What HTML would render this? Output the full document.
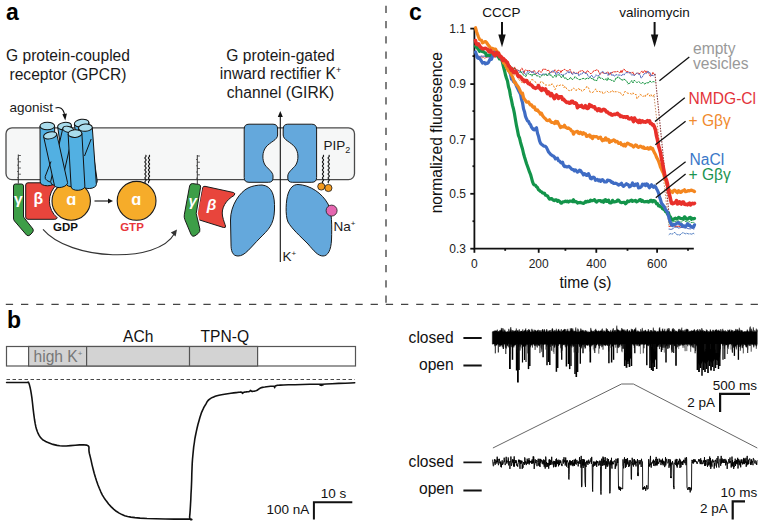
<!DOCTYPE html>
<html><head><meta charset="utf-8"><style>
html,body{margin:0;padding:0;background:#fff;width:764px;height:527px;overflow:hidden}
svg{display:block;font-family:"Liberation Sans", sans-serif}
</style></head><body>
<svg width="764" height="527" viewBox="0 0 764 527">
<path d="M386,5.7 V304.4" stroke="#555" stroke-width="1.5" fill="none" stroke-dasharray="7.3,7.95"/>
<path d="M5.8,304.4 H764" stroke="#444" stroke-width="1.4" fill="none" stroke-dasharray="7.3,7.9"/>
<text x="6" y="20" font-size="23" fill="#000" font-weight="bold" text-anchor="start" >a</text>
<text x="7" y="328" font-size="23" fill="#000" font-weight="bold" text-anchor="start" >b</text>
<text x="409" y="20" font-size="23" fill="#000" font-weight="bold" text-anchor="start" >c</text>
<text x="6" y="61" font-size="15.6" fill="#1a1a1a" font-weight="normal" text-anchor="start" >G protein-coupled</text>
<text x="9.5" y="79.5" font-size="15.6" fill="#1a1a1a" font-weight="normal" text-anchor="start" >receptor (GPCR)</text>
<text x="280.5" y="61" font-size="15.6" fill="#1a1a1a" font-weight="normal" text-anchor="middle" >G protein-gated</text>
<text x="280.5" y="79" font-size="15.6" fill="#1a1a1a" font-weight="normal" text-anchor="middle" >inward rectifier K<tspan font-size="9" dy="-6">+</tspan></text>
<text x="280.5" y="97.5" font-size="15.6" fill="#1a1a1a" font-weight="normal" text-anchor="middle" >channel (GIRK)</text>
<text x="9.5" y="111.5" font-size="13.5" fill="#1a1a1a" font-weight="normal" text-anchor="start" >agonist</text>
<path d="M55.5,108 C59,106.5 63.5,108 64.6,115" stroke="#111" stroke-width="1.1" fill="none"/>
<path d="M62.3,114.2 L65.3,120.5 L66.9,113.6 Z" fill="#111"/>
<rect x="6" y="127.8" width="348.5" height="51.8" rx="6" ry="6" fill="#f6f7f7" stroke="#4a4a4a" stroke-width="1.3"/>
<path d="M18.3,154.5 V183.5" stroke="#222" stroke-width="0.9"/>
<path d="M18.3,155.5 h2.6 M18.3,159.0 h-1.2 M18.3,161.8 h2.6 M18.3,165.2 h-1.2 M18.3,168.0 h2.6 M18.3,171.5 h-1.2 M18.3,174.2 h2.6 M18.3,177.8 h-1.2 " stroke="#333" stroke-width="0.8"/>
<path d="M13.5,186 Q13.5,184 15.5,184 L21.5,184 Q23.5,184 23.5,186 L23.5,217 L33,229 Q34,231 32,233 L30,235 Q28,236.5 26.5,235 L14.5,221 Q13.5,220 13.5,218 Z" fill="#3d9e47" stroke="#1a1a1a" stroke-width="1"/>
<text x="18.3" y="204.4" font-size="15.5" fill="#fff" font-weight="bold" text-anchor="middle" >γ</text>
<path d="M28,182.8 L54.5,182.8 Q56.5,182.8 56.95,184.5 A21.8,21.8 0 0 0 57.3,217.8 Q56.5,219.3 54.8,219.3 L28,219.3 Q25.7,219.3 25.7,217 L25.7,185 Q25.7,182.8 28,182.8 Z" fill="#e8453c" stroke="#1a1a1a" stroke-width="1"/>
<text x="38.3" y="204.4" font-size="15.7" fill="#fff" font-weight="bold" text-anchor="middle" >β</text>
<circle cx="71.2" cy="201" r="20.6" fill="#fff"/>
<circle cx="71.2" cy="201" r="19.2" fill="#f6ac2a" stroke="#1a1a1a" stroke-width="1.1"/>
<text x="71.2" y="205.3" font-size="16.5" fill="#fff" font-weight="bold" text-anchor="middle" >ɑ</text>
<path d="M74.37,124.13 L82.77,183.03 A7.3,3.8 -8.1 0 0 97.23,180.97 L88.83,122.07 Z" fill="#52b0e2" stroke="#111" stroke-width="1"/>
<ellipse cx="81.6" cy="123.1" rx="7.3" ry="3.8" transform="rotate(-8.1 81.6 123.1)" fill="#a9dcec" stroke="#111" stroke-width="1"/>
<path d="M40.00,126.03 L40.20,182.03 A7.3,3.8 -0.2 0 0 54.80,181.97 L54.60,125.97 Z" fill="#52b0e2" stroke="#111" stroke-width="1"/>
<ellipse cx="47.3" cy="126" rx="7.3" ry="3.8" transform="rotate(-0.2 47.3 126)" fill="#a9dcec" stroke="#111" stroke-width="1"/>
<path d="M57.68,127.02 L66.18,184.02 A6.9,3.6 -8.5 0 0 79.82,181.98 L71.32,124.98 Z" fill="#52b0e2" stroke="#111" stroke-width="1"/>
<ellipse cx="64.5" cy="126" rx="6.9" ry="3.6" transform="rotate(-8.5 64.5 126)" fill="#a9dcec" stroke="#111" stroke-width="1"/>
<path d="M62.84,128.18 L50.64,181.78 A5.5,3.0 12.8 0 0 61.36,184.22 L73.56,130.62 Z" fill="#52b0e2" stroke="#111" stroke-width="1"/>
<ellipse cx="68.2" cy="129.4" rx="5.5" ry="3.0" transform="rotate(12.8 68.2 129.4)" fill="#a9dcec" stroke="#111" stroke-width="1"/>
<path d="M78.52,128.19 L82.62,185.49 A6.9,3.6 -4.1 0 0 96.38,184.51 L92.28,127.21 Z" fill="#52b0e2" stroke="#111" stroke-width="1"/>
<ellipse cx="85.4" cy="127.7" rx="6.9" ry="3.6" transform="rotate(-4.1 85.4 127.7)" fill="#a9dcec" stroke="#111" stroke-width="1"/>
<path d="M43.66,136.75 L54.46,185.45 A6.7,3.4 -12.5 0 0 67.54,182.55 L56.74,133.85 Z" fill="#52b0e2" stroke="#111" stroke-width="1"/>
<ellipse cx="50.2" cy="135.3" rx="6.7" ry="3.4" transform="rotate(-12.5 50.2 135.3)" fill="#a9dcec" stroke="#111" stroke-width="1"/>
<path d="M68.11,133.99 L71.11,186.89 A6.9,3.8 -3.2 0 0 84.89,186.11 L81.89,133.21 Z" fill="#52b0e2" stroke="#111" stroke-width="1"/>
<ellipse cx="75" cy="133.6" rx="6.9" ry="3.8" transform="rotate(-3.2 75 133.6)" fill="#a9dcec" stroke="#111" stroke-width="1"/>
<path d="M51,161.5 L45.2,176.5 Q44.6,179 47,180.5 L50,182" stroke="#111" stroke-width="1" fill="none"/>
<path d="M91.2,139 L84.5,156" stroke="#111" stroke-width="1" fill="none"/>
<text x="65.5" y="230.5" font-size="11.5" fill="#111" font-weight="bold" text-anchor="middle" >GDP</text>
<path d="M94.5,201 H109" stroke="#111" stroke-width="1.1"/>
<path d="M108,198.5 L113,201 L108,203.5 Z" fill="#111"/>
<path d="M145.5,155 Q146.8,156 145.5,157 Q144.2,158 145.5,159 Q146.8,160 145.5,161 Q144.2,162 145.5,163 Q146.8,164 145.5,165 Q144.2,166 145.5,167 Q146.8,168 145.5,169 Q144.2,170 145.5,171 Q146.8,172 145.5,173 Q144.2,174 145.5,175 Q146.8,176 145.5,177 Q144.2,178 145.5,179 Q146.8,180 145.5,181 Q144.2,182 145.5,183" stroke="#111" stroke-width="1.05" fill="none"/>
<path d="M149,155 Q150.3,156 149,157 Q147.7,158 149,159 Q150.3,160 149,161 Q147.7,162 149,163 Q150.3,164 149,165 Q147.7,166 149,167 Q150.3,168 149,169 Q147.7,170 149,171 Q150.3,172 149,173 Q147.7,174 149,175 Q150.3,176 149,177 Q147.7,178 149,179 Q150.3,180 149,181 Q147.7,182 149,183" stroke="#111" stroke-width="1.05" fill="none"/>
<circle cx="136.6" cy="200.8" r="19.4" fill="#f6ac2a" stroke="#1a1a1a" stroke-width="1.1"/>
<text x="136.4" y="205.4" font-size="16.5" fill="#fff" font-weight="bold" text-anchor="middle" >ɑ</text>
<text x="132" y="230.5" font-size="11.5" fill="#e8353a" font-weight="bold" text-anchor="middle" >GTP</text>
<path d="M43,229.3 C70,261 158,264 174.5,233.5" stroke="#333" stroke-width="1.1" fill="none"/>
<path d="M170.8,232.6 L177,229.6 L175.6,236.4 Z" fill="#333"/>
<path d="M205,186.3 L233.5,192.5 Q236,193.5 234,195.5 C226,200 221,208 222.5,216 C223.5,221 225,224 225.5,226 Q226,228 223.5,227.5 L198,219.5 Q196,219 196.5,217 L202.5,188 Q203,186 205,186.3 Z" fill="#e8453c" stroke="#1a1a1a" stroke-width="1"/>
<path d="M192.5,183.6 L198.8,184.4 Q201,184.9 200.6,187.2 L196.2,213.5 L199.8,228.8 Q200.5,231.8 198,233.6 L195,235.8 Q192.6,237.2 191.2,234.8 L184.8,219.5 Q183.9,217.2 184.3,214.8 L189.6,186 Q190.2,183.4 192.5,183.6 Z" fill="#fff" stroke="#fff" stroke-width="3.2"/>
<path d="M192.5,183.6 L198.8,184.4 Q201,184.9 200.6,187.2 L196.2,213.5 L199.8,228.8 Q200.5,231.8 198,233.6 L195,235.8 Q192.6,237.2 191.2,234.8 L184.8,219.5 Q183.9,217.2 184.3,214.8 L189.6,186 Q190.2,183.4 192.5,183.6 Z" fill="#3d9e47" stroke="#1a1a1a" stroke-width="1"/>
<path d="M197.3,155 V184" stroke="#222" stroke-width="0.9"/>
<path d="M197.3,156.0 h2.6 M197.3,159.5 h-1.2 M197.3,162.2 h2.6 M197.3,165.8 h-1.2 M197.3,168.5 h2.6 M197.3,172.0 h-1.2 M197.3,174.8 h2.6 M197.3,178.2 h-1.2 " stroke="#333" stroke-width="0.8"/>
<text x="192.6" y="206" font-size="15" fill="#fff" font-weight="bold" text-anchor="middle" font-style="italic">γ</text>
<text x="211.5" y="209.5" font-size="15.5" fill="#fff" font-weight="bold" text-anchor="middle" font-style="italic">β</text>
<path d="M249,124.2 L273,124.2 Q277.6,124.2 277.6,129 L277.6,135 C277.6,140 270,142 266,147 C262,152 262,160 265,165 C268,169 273,172 273,176 L273,178 Q273,182.3 268.5,182.3 L249,182.3 Q244.2,182.3 244.2,177.5 L244.2,129 Q244.2,124.2 249,124.2 Z" fill="#64a8dc" stroke="#1a1a1a" stroke-width="1"/>
<path d="M311.8,124.2 L287.8,124.2 Q283.2,124.2 283.2,129 L283.2,135 C283.2,140 290.8,142 294.8,147 C298.8,152 298.8,160 295.8,165 C292.8,169 287.8,172 287.8,176 L287.8,178 Q287.8,182.3 292.3,182.3 L311.8,182.3 Q316.6,182.3 316.6,177.5 L316.6,129 Q316.6,124.2 311.8,124.2 Z" fill="#64a8dc" stroke="#1a1a1a" stroke-width="1"/>
<path d="M262,185 C272,186 275,195 274.5,210 C274,225 268,230 260,238 C250,248 245,256 238,256 C232,256 231,250 231,244 L230.5,220 C230.5,205 240,192 248,188 C252,186 257,185 262,185 Z" fill="#64a8dc" stroke="#1a1a1a" stroke-width="1"/>
<path d="M298,184.5 C310,185 322,193 328,204 C332,212 332,225 331.5,240 C331,250 328,256 323,256 C318,256 314,251 308,244 C300,236 292,229 288,222 C285,215 286,200 288,194 C290,188 293,184.5 298,184.5 Z" fill="#64a8dc" stroke="#1a1a1a" stroke-width="1"/>
<path d="M280.3,262 V116" stroke="#111" stroke-width="1.1"/>
<path d="M277.8,117 L280.3,111 L282.8,117 Z" fill="#111"/>
<text x="282.5" y="261" font-size="13.5" fill="#1a1a1a" font-weight="normal" text-anchor="start" >K<tspan font-size="8" dy="-5">+</tspan></text>
<text x="323.5" y="150" font-size="13.5" fill="#1a1a1a" font-weight="normal" text-anchor="start" >PIP<tspan font-size="9" dy="3">2</tspan></text>
<path d="M323,155 Q324.3,156 323,157 Q321.7,158 323,159 Q324.3,160 323,161 Q321.7,162 323,163 Q324.3,164 323,165 Q321.7,166 323,167 Q324.3,168 323,169 Q321.7,170 323,171 Q324.3,172 323,173 Q321.7,174 323,175 Q324.3,176 323,177 Q321.7,178 323,179 Q324.3,180 323,181 Q321.7,182 323,183" stroke="#111" stroke-width="1.05" fill="none"/>
<path d="M328.7,155 Q330.0,156 328.7,157 Q327.4,158 328.7,159 Q330.0,160 328.7,161 Q327.4,162 328.7,163 Q330.0,164 328.7,165 Q327.4,166 328.7,167 Q330.0,168 328.7,169 Q327.4,170 328.7,171 Q330.0,172 328.7,173 Q327.4,174 328.7,175 Q330.0,176 328.7,177 Q327.4,178 328.7,179 Q330.0,180 328.7,181 Q327.4,182 328.7,183" stroke="#111" stroke-width="1.05" fill="none"/>
<circle cx="321.3" cy="186.5" r="3.6" fill="#f39a1f" stroke="#1a1a1a" stroke-width="0.8"/>
<circle cx="328.4" cy="188" r="3.6" fill="#f39a1f" stroke="#1a1a1a" stroke-width="0.8"/>
<circle cx="331.6" cy="210.6" r="5.5" fill="#e466b0" stroke="#1a1a1a" stroke-width="0.8"/>
<text x="333.5" y="230.5" font-size="13.5" fill="#1a1a1a" font-weight="normal" text-anchor="start" >Na<tspan font-size="8" dy="-5">+</tspan></text>
<path d="M474.4,28 V248.7 H693.8" stroke="#111" stroke-width="1.8" fill="none"/>
<path d="M470.3,28.6 H474.4" stroke="#111" stroke-width="1.8"/>
<text x="466" y="32.9" font-size="12" fill="#222" font-weight="normal" text-anchor="end" >1.1</text>
<path d="M470.3,84.1 H474.4" stroke="#111" stroke-width="1.8"/>
<text x="466" y="88.39999999999999" font-size="12" fill="#222" font-weight="normal" text-anchor="end" >0.9</text>
<path d="M470.3,139.2 H474.4" stroke="#111" stroke-width="1.8"/>
<text x="466" y="143.5" font-size="12" fill="#222" font-weight="normal" text-anchor="end" >0.7</text>
<path d="M470.3,193.8 H474.4" stroke="#111" stroke-width="1.8"/>
<text x="466" y="198.10000000000002" font-size="12" fill="#222" font-weight="normal" text-anchor="end" >0.5</text>
<path d="M470.3,248.7 H474.4" stroke="#111" stroke-width="1.8"/>
<text x="466" y="253.0" font-size="12" fill="#222" font-weight="normal" text-anchor="end" >0.3</text>
<path d="M472.5,56.1 H474.4" stroke="#111" stroke-width="1.8"/>
<path d="M472.5,111.1 H474.4" stroke="#111" stroke-width="1.8"/>
<path d="M472.5,166.2 H474.4" stroke="#111" stroke-width="1.8"/>
<path d="M472.5,221.2 H474.4" stroke="#111" stroke-width="1.8"/>
<path d="M474.4,248.7 V252.8" stroke="#111" stroke-width="1.8"/>
<text x="474.4" y="267.5" font-size="12" fill="#222" font-weight="normal" text-anchor="middle" >0</text>
<path d="M505.2,248.7 V250.8" stroke="#111" stroke-width="1.8"/>
<path d="M538.7,248.7 V252.8" stroke="#111" stroke-width="1.8"/>
<text x="538.7" y="267.5" font-size="12" fill="#222" font-weight="normal" text-anchor="middle" >200</text>
<path d="M565.4,248.7 V250.8" stroke="#111" stroke-width="1.8"/>
<path d="M596.3,248.7 V252.8" stroke="#111" stroke-width="1.8"/>
<text x="596.3" y="267.5" font-size="12" fill="#222" font-weight="normal" text-anchor="middle" >400</text>
<path d="M627.5,248.7 V250.8" stroke="#111" stroke-width="1.8"/>
<path d="M657.1,248.7 V252.8" stroke="#111" stroke-width="1.8"/>
<text x="657.1" y="267.5" font-size="12" fill="#222" font-weight="normal" text-anchor="middle" >600</text>
<path d="M688,248.7 V250.8" stroke="#111" stroke-width="1.8"/>
<text x="585.5" y="288.3" font-size="15.6" fill="#111" font-weight="normal" text-anchor="middle" >time (s)</text>
<text x="0" y="0" font-size="15.6" fill="#111" font-weight="normal" text-anchor="middle" transform="translate(441.5,132.7) rotate(-90)">normalized fluoresence</text>
<text x="501.5" y="16.7" font-size="13.5" fill="#111" font-weight="normal" text-anchor="middle" >CCCP</text>
<text x="654.5" y="16.5" font-size="13.5" fill="#111" font-weight="normal" text-anchor="middle" >valinomycin</text>
<path d="M502,22 V37" stroke="#111" stroke-width="2"/>
<path d="M498.3,34.5 L502,47.3 L505.7,34.5 Z" fill="#111"/>
<path d="M654.6,22 V37" stroke="#111" stroke-width="2"/>
<path d="M650.9,34.5 L654.6,47.3 L658.3000000000001,34.5 Z" fill="#111"/>
<path d="M501.0,57.3 L502.0,58.8 L503.0,59.2 L504.0,57.7 L505.0,59.1 L506.0,59.1 L507.0,61.3 L508.0,60.9 L509.0,63.8 L510.0,65.1 L511.0,68.2 L512.0,68.4 L513.0,68.7 L514.0,67.7 L515.0,67.1 L516.0,69.7 L517.0,69.6 L518.0,70.3 L519.0,70.5 L520.0,71.5 L521.0,69.1 L522.0,68.1 L523.0,70.3 L524.0,73.6 L525.0,70.0 L526.0,69.7 L527.0,70.8 L528.0,70.4 L529.0,70.5 L530.0,70.5 L531.0,72.1 L532.0,71.9 L533.0,71.9 L534.0,70.2 L535.0,71.7 L536.0,73.8 L537.0,73.5 L538.0,72.2 L539.0,70.4 L540.0,71.6 L541.0,72.3 L542.0,71.7 L543.0,68.9 L544.0,69.4 L545.0,69.2 L546.0,69.4 L547.0,70.9 L548.0,70.1 L549.0,70.6 L550.0,72.9 L551.0,71.4 L552.0,71.5 L553.0,72.5 L554.0,71.4 L555.0,69.7 L556.0,71.1 L557.0,72.6 L558.0,70.0 L559.0,70.5 L560.0,70.5 L561.0,72.8 L562.0,70.3 L563.0,70.7 L564.0,69.4 L565.0,69.4 L566.0,70.6 L567.0,70.8 L568.0,71.1 L569.0,70.5 L570.0,69.2 L571.0,71.7 L572.0,73.6 L573.0,72.7 L574.0,71.8 L575.0,73.5 L576.0,73.3 L577.0,72.9 L578.0,73.6 L579.0,71.6 L580.0,70.7 L581.0,71.4 L582.0,70.2 L583.0,71.1 L584.0,71.8 L585.0,72.6 L586.0,72.9 L587.0,70.7 L588.0,71.1 L589.0,72.0 L590.0,73.2 L591.0,73.8 L592.0,72.6 L593.0,72.0 L594.0,70.5 L595.0,70.6 L596.0,70.3 L597.0,69.5 L598.0,70.3 L599.0,72.4 L600.0,74.2 L601.0,73.5 L602.0,72.6 L603.0,72.7 L604.0,73.4 L605.0,73.4 L606.0,73.2 L607.0,72.4 L608.0,71.8 L609.0,74.7 L610.0,74.7 L611.0,72.3 L612.0,73.2 L613.0,71.6 L614.0,72.2 L615.0,71.5 L616.0,72.1 L617.0,71.4 L618.0,71.4 L619.0,72.4 L620.0,73.0 L621.0,70.3 L622.0,72.8 L623.0,69.8 L624.0,69.1 L625.0,70.0 L626.0,71.7 L627.0,71.9 L628.0,71.4 L629.0,73.1 L630.0,72.7 L631.0,72.4 L632.0,73.4 L633.0,71.9 L634.0,74.8 L635.0,75.2 L636.0,73.7 L637.0,73.1 L638.0,72.9 L639.0,73.6 L640.0,73.5 L641.0,71.9 L642.0,70.9 L643.0,73.0 L644.0,71.0 L645.0,70.6 L646.0,73.0 L647.0,70.9 L648.0,72.4 L649.0,73.7 L650.0,76.1 L651.0,75.9 L652.0,74.5 L653.0,72.2 L654.0,74.1 L655.0,74.9" stroke="#e8392a" stroke-width="1.0" fill="none" stroke-linejoin="round" stroke-linecap="round" stroke-dasharray="2.2,1.3"/>
<path d="M501.0,55.8 L502.0,56.7 L503.0,60.7 L504.0,59.9 L505.0,58.9 L506.0,60.9 L507.0,62.2 L508.0,64.0 L509.0,64.1 L510.0,66.9 L511.0,67.7 L512.0,70.9 L513.0,70.2 L514.0,69.7 L515.0,71.1 L516.0,71.4 L517.0,69.8 L518.0,71.2 L519.0,70.3 L520.0,72.4 L521.0,71.5 L522.0,72.5 L523.0,71.4 L524.0,72.2 L525.0,74.0 L526.0,74.6 L527.0,72.7 L528.0,71.0 L529.0,72.6 L530.0,71.8 L531.0,71.3 L532.0,72.9 L533.0,71.4 L534.0,73.1 L535.0,74.4 L536.0,73.7 L537.0,72.3 L538.0,72.5 L539.0,74.7 L540.0,74.2 L541.0,75.3 L542.0,74.4 L543.0,74.1 L544.0,74.1 L545.0,74.0 L546.0,74.2 L547.0,74.9 L548.0,75.7 L549.0,74.5 L550.0,72.9 L551.0,72.4 L552.0,71.9 L553.0,70.3 L554.0,72.0 L555.0,71.9 L556.0,75.0 L557.0,73.6 L558.0,71.9 L559.0,73.3 L560.0,73.5 L561.0,74.7 L562.0,74.4 L563.0,76.3 L564.0,74.2 L565.0,74.3 L566.0,73.5 L567.0,73.0 L568.0,71.4 L569.0,73.3 L570.0,71.5 L571.0,73.1 L572.0,74.0 L573.0,74.4 L574.0,72.2 L575.0,74.0 L576.0,73.1 L577.0,73.9 L578.0,73.5 L579.0,76.0 L580.0,74.3 L581.0,73.8 L582.0,74.2 L583.0,72.3 L584.0,72.5 L585.0,73.0 L586.0,73.8 L587.0,73.4 L588.0,75.9 L589.0,77.3 L590.0,77.1 L591.0,75.5 L592.0,75.5 L593.0,77.3 L594.0,77.8 L595.0,76.7 L596.0,74.7 L597.0,75.8 L598.0,75.9 L599.0,75.1 L600.0,74.4 L601.0,72.6 L602.0,71.6 L603.0,71.3 L604.0,73.1 L605.0,73.9 L606.0,73.1 L607.0,73.3 L608.0,75.5 L609.0,73.4 L610.0,73.3 L611.0,72.3 L612.0,75.6 L613.0,74.4 L614.0,76.0 L615.0,76.1 L616.0,74.4 L617.0,75.1 L618.0,74.9 L619.0,75.2 L620.0,75.0 L621.0,75.4 L622.0,75.5 L623.0,74.0 L624.0,75.1 L625.0,73.7 L626.0,72.4 L627.0,72.9 L628.0,72.5 L629.0,72.6 L630.0,72.2 L631.0,74.3 L632.0,75.4 L633.0,74.1 L634.0,75.8 L635.0,75.0 L636.0,73.8 L637.0,72.8 L638.0,74.1 L639.0,74.1 L640.0,74.6 L641.0,78.1 L642.0,77.4 L643.0,75.8 L644.0,73.8 L645.0,73.6 L646.0,73.2 L647.0,73.1 L648.0,70.9 L649.0,72.9 L650.0,72.3 L651.0,76.1 L652.0,75.0 L653.0,75.9 L654.0,75.6 L655.0,74.2" stroke="#5a70c0" stroke-width="1.0" fill="none" stroke-linejoin="round" stroke-linecap="round" stroke-dasharray="2.2,1.3"/>
<path d="M501.0,57.4 L502.0,59.2 L503.0,60.3 L504.0,62.0 L505.0,61.0 L506.0,61.2 L507.0,61.5 L508.0,62.2 L509.0,65.4 L510.0,66.5 L511.0,66.3 L512.0,66.8 L513.0,69.3 L514.0,68.3 L515.0,68.8 L516.0,70.4 L517.0,72.4 L518.0,73.8 L519.0,72.7 L520.0,71.7 L521.0,71.6 L522.0,73.6 L523.0,74.1 L524.0,75.6 L525.0,75.9 L526.0,76.5 L527.0,74.4 L528.0,73.4 L529.0,74.1 L530.0,75.0 L531.0,74.2 L532.0,76.2 L533.0,73.9 L534.0,74.6 L535.0,74.0 L536.0,75.3 L537.0,76.1 L538.0,75.6 L539.0,76.2 L540.0,77.5 L541.0,76.1 L542.0,75.3 L543.0,74.7 L544.0,75.2 L545.0,74.8 L546.0,73.7 L547.0,75.9 L548.0,74.9 L549.0,73.2 L550.0,75.5 L551.0,74.7 L552.0,76.3 L553.0,77.7 L554.0,76.1 L555.0,75.2 L556.0,77.2 L557.0,75.2 L558.0,74.7 L559.0,75.0 L560.0,75.2 L561.0,77.5 L562.0,77.2 L563.0,75.2 L564.0,77.9 L565.0,78.3 L566.0,77.7 L567.0,79.6 L568.0,79.5 L569.0,79.4 L570.0,77.8 L571.0,77.7 L572.0,79.4 L573.0,79.3 L574.0,78.3 L575.0,76.6 L576.0,77.8 L577.0,78.1 L578.0,79.2 L579.0,79.4 L580.0,79.8 L581.0,79.0 L582.0,79.1 L583.0,78.2 L584.0,78.7 L585.0,79.0 L586.0,79.1 L587.0,77.9 L588.0,78.7 L589.0,78.5 L590.0,77.4 L591.0,78.0 L592.0,79.1 L593.0,78.4 L594.0,80.3 L595.0,79.9 L596.0,80.6 L597.0,80.5 L598.0,77.8 L599.0,76.3 L600.0,78.2 L601.0,78.2 L602.0,78.1 L603.0,79.2 L604.0,79.7 L605.0,79.8 L606.0,78.6 L607.0,80.6 L608.0,77.7 L609.0,79.8 L610.0,79.2 L611.0,80.4 L612.0,80.2 L613.0,80.4 L614.0,81.8 L615.0,80.3 L616.0,77.9 L617.0,78.3 L618.0,76.7 L619.0,77.8 L620.0,78.2 L621.0,79.9 L622.0,79.5 L623.0,80.4 L624.0,78.9 L625.0,80.1 L626.0,80.3 L627.0,81.7 L628.0,83.9 L629.0,83.3 L630.0,83.2 L631.0,81.3 L632.0,80.6 L633.0,83.0 L634.0,80.4 L635.0,80.7 L636.0,81.7 L637.0,82.8 L638.0,81.7 L639.0,81.8 L640.0,82.5 L641.0,83.7 L642.0,83.0 L643.0,82.3 L644.0,83.7 L645.0,84.1 L646.0,82.7 L647.0,83.0 L648.0,82.7 L649.0,82.7 L650.0,80.9 L651.0,82.1 L652.0,82.4 L653.0,81.3 L654.0,82.1 L655.0,81.6" stroke="#1f9a48" stroke-width="1.0" fill="none" stroke-linejoin="round" stroke-linecap="round" stroke-dasharray="2.2,1.3"/>
<path d="M501.0,57.8 L502.0,58.4 L503.0,59.2 L504.0,58.7 L505.0,61.2 L506.0,63.6 L507.0,64.5 L508.0,65.8 L509.0,65.6 L510.0,69.8 L511.0,71.3 L512.0,71.9 L513.0,73.6 L514.0,74.6 L515.0,75.2 L516.0,75.6 L517.0,76.6 L518.0,78.0 L519.0,79.6 L520.0,80.9 L521.0,81.5 L522.0,82.8 L523.0,81.8 L524.0,79.7 L525.0,78.7 L526.0,81.2 L527.0,79.4 L528.0,79.6 L529.0,80.7 L530.0,82.5 L531.0,79.8 L532.0,79.6 L533.0,79.9 L534.0,80.3 L535.0,81.4 L536.0,83.0 L537.0,83.6 L538.0,86.7 L539.0,86.7 L540.0,83.2 L541.0,81.4 L542.0,82.0 L543.0,82.3 L544.0,84.2 L545.0,84.7 L546.0,85.3 L547.0,84.7 L548.0,85.1 L549.0,85.3 L550.0,84.8 L551.0,85.6 L552.0,83.7 L553.0,85.7 L554.0,86.4 L555.0,89.7 L556.0,87.8 L557.0,85.2 L558.0,85.0 L559.0,85.6 L560.0,85.3 L561.0,84.7 L562.0,85.6 L563.0,84.8 L564.0,87.7 L565.0,86.0 L566.0,87.8 L567.0,89.3 L568.0,89.5 L569.0,90.9 L570.0,90.5 L571.0,91.0 L572.0,89.2 L573.0,88.0 L574.0,88.3 L575.0,89.4 L576.0,91.0 L577.0,89.1 L578.0,88.8 L579.0,88.6 L580.0,90.4 L581.0,89.7 L582.0,91.5 L583.0,90.5 L584.0,89.7 L585.0,89.3 L586.0,87.9 L587.0,86.1 L588.0,87.8 L589.0,88.4 L590.0,92.2 L591.0,92.2 L592.0,92.7 L593.0,92.1 L594.0,91.4 L595.0,89.6 L596.0,88.9 L597.0,91.9 L598.0,91.1 L599.0,90.8 L600.0,92.2 L601.0,91.7 L602.0,91.4 L603.0,94.1 L604.0,93.5 L605.0,92.3 L606.0,91.7 L607.0,91.1 L608.0,92.1 L609.0,92.9 L610.0,91.9 L611.0,91.9 L612.0,90.3 L613.0,91.0 L614.0,92.7 L615.0,91.5 L616.0,92.0 L617.0,91.5 L618.0,91.6 L619.0,92.7 L620.0,91.7 L621.0,93.8 L622.0,95.1 L623.0,95.7 L624.0,93.5 L625.0,91.2 L626.0,91.8 L627.0,92.9 L628.0,93.3 L629.0,93.4 L630.0,93.8 L631.0,93.5 L632.0,94.7 L633.0,92.8 L634.0,94.1 L635.0,94.9 L636.0,94.1 L637.0,98.9 L638.0,97.2 L639.0,96.4 L640.0,94.3 L641.0,95.0 L642.0,95.4 L643.0,96.8 L644.0,95.5 L645.0,96.9 L646.0,94.7 L647.0,95.3 L648.0,93.4 L649.0,94.7 L650.0,96.3 L651.0,94.4 L652.0,96.2 L653.0,96.8 L654.0,94.7 L655.0,94.5" stroke="#f08a24" stroke-width="1.0" fill="none" stroke-linejoin="round" stroke-linecap="round" stroke-dasharray="1.6,2.2"/>
<path d="M475.5,56.1 L476.5,56.0 L477.5,56.7 L478.5,56.6 L479.5,56.8 L480.5,56.2 L481.5,56.1 L482.5,56.1 L483.5,55.9 L484.5,56.4 L485.5,56.7 L486.5,56.9 L487.5,57.5 L488.5,57.6 L489.5,56.4 L490.5,56.5 L491.5,56.6 L492.5,55.8 L493.5,55.8 L494.5,57.2 L495.5,55.7 L496.5,55.6 L497.5,56.0 L498.5,56.7 L499.5,57.4 L500.5,57.3" stroke="#8a5ab0" stroke-width="0.9" fill="none" stroke-linejoin="round" stroke-linecap="round" stroke-dasharray="2,1"/>
<path d="M475.5,55.8 L476.5,56.7 L477.5,56.0 L478.5,56.3 L479.5,56.5 L480.5,57.2 L481.5,56.8 L482.5,58.0 L483.5,57.3 L484.5,58.2 L485.5,57.8 L486.5,57.5 L487.5,55.8 L488.5,55.8 L489.5,56.4 L490.5,56.1 L491.5,55.6 L492.5,55.3 L493.5,56.3 L494.5,57.2 L495.5,57.4 L496.5,55.7 L497.5,56.3 L498.5,57.2 L499.5,55.6 L500.5,56.4" stroke="#e8392a" stroke-width="0.9" fill="none" stroke-linejoin="round" stroke-linecap="round" stroke-dasharray="2,1"/>
<path d="M475.5,57.1 L476.5,56.7 L477.5,56.0 L478.5,56.1 L479.5,56.3 L480.5,56.6 L481.5,56.1 L482.5,56.6 L483.5,56.6 L484.5,56.1 L485.5,56.5 L486.5,56.5 L487.5,56.4 L488.5,56.4 L489.5,56.5 L490.5,56.7 L491.5,57.4 L492.5,56.8 L493.5,55.7 L494.5,55.8 L495.5,56.6 L496.5,56.4 L497.5,56.7 L498.5,56.3 L499.5,56.1 L500.5,55.4" stroke="#4a78c0" stroke-width="0.9" fill="none" stroke-linejoin="round" stroke-linecap="round" stroke-dasharray="2,1"/>
<path d="M655,74 L670,224" stroke="#8a3a3a" stroke-width="1.1" stroke-dasharray="1.5,1.2" fill="none"/>
<path d="M654,96 L669,226" stroke="#c07a4a" stroke-width="0.9" stroke-dasharray="1.5,1.5" fill="none"/>
<path d="M669.0,226.5 L670.0,226.4 L671.0,226.1 L672.0,225.6 L673.0,226.2 L674.0,225.6 L675.0,226.7 L676.0,226.4 L677.0,226.3 L678.0,226.3 L679.0,226.0 L680.0,226.9 L681.0,227.0 L682.0,228.0 L683.0,226.6 L684.0,227.5 L685.0,226.5 L686.0,226.6 L687.0,225.2 L688.0,226.1 L689.0,224.9 L690.0,225.5 L691.0,226.1 L692.0,226.3 L693.0,226.8 L694.0,227.1" stroke="#e8392a" stroke-width="1.0" fill="none" stroke-linejoin="round" stroke-linecap="round" />
<path d="M669.0,229.1 L670.0,229.1 L671.0,229.5 L672.0,229.0 L673.0,228.8 L674.0,227.4 L675.0,226.6 L676.0,227.8 L677.0,226.6 L678.0,228.1 L679.0,227.9 L680.0,227.9 L681.0,227.4 L682.0,227.6 L683.0,227.5 L684.0,227.9 L685.0,228.0 L686.0,227.8 L687.0,228.0 L688.0,228.8 L689.0,228.6 L690.0,229.0 L691.0,228.8 L692.0,227.5 L693.0,229.0 L694.0,229.0" stroke="#5a70c0" stroke-width="1.0" fill="none" stroke-linejoin="round" stroke-linecap="round" />
<path d="M669.0,234.6 L670.0,233.7 L671.0,233.7 L672.0,234.3 L673.0,233.6 L674.0,232.6 L675.0,232.4 L676.0,233.9 L677.0,234.8 L678.0,234.7 L679.0,234.7 L680.0,235.2 L681.0,233.8 L682.0,233.2 L683.0,232.5 L684.0,233.2 L685.0,233.5 L686.0,234.1 L687.0,233.2 L688.0,233.9 L689.0,233.9 L690.0,233.8 L691.0,233.9 L692.0,234.4 L693.0,233.0 L694.0,233.7" stroke="#4a78c0" stroke-width="0.9" fill="none" stroke-linejoin="round" stroke-linecap="round" stroke-dasharray="2,1.2"/>
<path d="M669.0,223.0 L670.0,223.1 L671.0,222.2 L672.0,221.9 L673.0,222.1 L674.0,221.2 L675.0,222.0 L676.0,221.3 L677.0,221.5 L678.0,220.7 L679.0,221.2 L680.0,221.8 L681.0,222.2 L682.0,221.9 L683.0,220.2 L684.0,220.5 L685.0,221.0 L686.0,221.9 L687.0,221.6 L688.0,222.1 L689.0,222.0 L690.0,221.5 L691.0,222.5 L692.0,222.6 L693.0,222.3 L694.0,222.5" stroke="#1f9a48" stroke-width="0.9" fill="none" stroke-linejoin="round" stroke-linecap="round" stroke-dasharray="2,1.2"/>
<path d="M475.5,46.2 L476.5,47.3 L477.5,48.2 L478.5,49.4 L479.5,51.3 L480.5,50.5 L481.5,51.2 L482.5,51.6 L483.5,51.7 L484.5,52.5 L485.5,53.1 L486.5,55.6 L487.5,55.3 L488.5,55.1 L489.5,55.8 L490.5,54.7 L491.5,54.5 L492.5,55.5 L493.5,55.1 L494.5,54.7 L495.5,54.8 L496.5,54.3 L497.5,56.2 L498.5,57.2 L499.5,58.9 L500.5,57.5 L501.5,58.8 L502.5,62.4 L503.5,66.8 L504.5,70.5 L505.5,75.0 L506.5,78.3 L507.5,81.0 L508.5,86.8 L509.5,90.0 L510.5,96.0 L511.5,100.3 L512.5,105.4 L513.5,109.0 L514.5,113.9 L515.5,119.9 L516.5,125.7 L517.5,130.4 L518.5,135.6 L519.5,137.9 L520.5,142.2 L521.5,145.7 L522.5,149.0 L523.5,153.5 L524.5,157.0 L525.5,160.2 L526.5,163.5 L527.5,166.2 L528.5,169.0 L529.5,171.9 L530.5,174.3 L531.5,177.9 L532.5,181.6 L533.5,184.2 L534.5,185.0 L535.5,185.3 L536.5,186.8 L537.5,187.6 L538.5,189.7 L539.5,190.4 L540.5,191.5 L541.5,191.7 L542.5,192.9 L543.5,193.1 L544.5,193.3 L545.5,195.3 L546.5,195.5 L547.5,195.9 L548.5,197.6 L549.5,199.1 L550.5,198.9 L551.5,198.5 L552.5,199.5 L553.5,200.3 L554.5,200.6 L555.5,199.8 L556.5,199.8 L557.5,201.3 L558.5,200.5 L559.5,201.2 L560.5,202.7 L561.5,203.2 L562.5,202.1 L563.5,201.8 L564.5,201.7 L565.5,201.0 L566.5,201.6 L567.5,201.1 L568.5,202.0 L569.5,201.2 L570.5,201.1 L571.5,201.1 L572.5,201.6 L573.5,199.8 L574.5,201.7 L575.5,201.6 L576.5,201.9 L577.5,203.0 L578.5,202.5 L579.5,202.6 L580.5,202.4 L581.5,202.9 L582.5,203.0 L583.5,203.4 L584.5,202.7 L585.5,201.5 L586.5,202.0 L587.5,201.1 L588.5,201.6 L589.5,201.5 L590.5,200.1 L591.5,200.8 L592.5,200.6 L593.5,200.3 L594.5,199.7 L595.5,201.2 L596.5,202.1 L597.5,201.1 L598.5,200.7 L599.5,200.7 L600.5,200.5 L601.5,201.7 L602.5,201.0 L603.5,202.2 L604.5,200.2 L605.5,199.6 L606.5,201.5 L607.5,201.4 L608.5,200.1 L609.5,202.7 L610.5,202.9 L611.5,202.6 L612.5,200.3 L613.5,201.8 L614.5,201.8 L615.5,201.7 L616.5,201.5 L617.5,200.2 L618.5,200.1 L619.5,201.3 L620.5,202.3 L621.5,202.6 L622.5,202.5 L623.5,202.3 L624.5,202.4 L625.5,203.8 L626.5,202.8 L627.5,201.0 L628.5,201.7 L629.5,201.3 L630.5,200.6 L631.5,200.1 L632.5,201.4 L633.5,200.9 L634.5,201.0 L635.5,200.5 L636.5,201.9 L637.5,201.3 L638.5,201.0 L639.5,199.9 L640.5,199.6 L641.5,201.3 L642.5,200.5 L643.5,201.6 L644.5,201.8 L645.5,201.7 L646.5,201.6 L647.5,201.4 L648.5,202.1 L649.5,201.7 L650.5,200.3 L651.5,200.4 L652.5,201.9 L653.5,200.5 L654.5,200.7 L655.5,201.7 L656.5,203.7 L657.5,203.6 L658.5,205.8 L659.5,205.5 L660.5,206.8 L661.5,207.0 L662.5,208.6 L663.5,209.3 L664.5,209.4 L665.5,211.5 L666.5,211.9 L667.5,214.0 L668.5,213.0 L669.5,216.3 L670.5,217.1 L671.5,219.5 L672.5,219.8 L673.5,219.2 L674.5,218.7 L675.5,218.2 L676.5,218.9 L677.5,218.6 L678.5,217.4 L679.5,217.7 L680.5,218.5 L681.5,218.6 L682.5,218.7 L683.5,218.9 L684.5,216.8 L685.5,217.7 L686.5,219.2 L687.5,219.2 L688.5,218.5 L689.5,217.5 L690.5,217.4 L691.5,219.3 L692.5,218.4 L693.5,218.8 L694.5,218.4" stroke="#13944a" stroke-width="3.2" fill="none" stroke-linejoin="round" stroke-linecap="round" />
<path d="M475.5,51.9 L476.5,54.8 L477.5,57.8 L478.5,58.4 L479.5,58.1 L480.5,59.6 L481.5,61.2 L482.5,63.1 L483.5,62.5 L484.5,62.6 L485.5,63.9 L486.5,63.2 L487.5,63.3 L488.5,62.3 L489.5,60.3 L490.5,58.4 L491.5,59.2 L492.5,56.4 L493.5,53.9 L494.5,51.6 L495.5,51.9 L496.5,53.0 L497.5,53.5 L498.5,54.4 L499.5,55.5 L500.5,56.8 L501.5,58.7 L502.5,60.2 L503.5,60.1 L504.5,63.2 L505.5,63.8 L506.5,66.2 L507.5,67.1 L508.5,69.9 L509.5,71.5 L510.5,74.2 L511.5,79.1 L512.5,79.6 L513.5,81.6 L514.5,81.6 L515.5,83.5 L516.5,86.3 L517.5,88.1 L518.5,90.4 L519.5,92.3 L520.5,94.3 L521.5,99.3 L522.5,102.6 L523.5,108.7 L524.5,111.7 L525.5,116.4 L526.5,118.8 L527.5,120.9 L528.5,121.4 L529.5,123.7 L530.5,124.7 L531.5,127.1 L532.5,128.5 L533.5,129.5 L534.5,129.9 L535.5,128.5 L536.5,127.8 L537.5,133.2 L538.5,136.2 L539.5,140.6 L540.5,143.3 L541.5,144.2 L542.5,145.0 L543.5,145.9 L544.5,146.2 L545.5,146.4 L546.5,147.6 L547.5,149.6 L548.5,151.9 L549.5,153.0 L550.5,154.2 L551.5,155.0 L552.5,155.8 L553.5,156.1 L554.5,157.1 L555.5,158.9 L556.5,158.4 L557.5,158.2 L558.5,160.8 L559.5,161.0 L560.5,162.2 L561.5,163.1 L562.5,162.1 L563.5,165.2 L564.5,166.6 L565.5,166.2 L566.5,167.0 L567.5,167.0 L568.5,166.3 L569.5,166.8 L570.5,167.8 L571.5,169.1 L572.5,169.6 L573.5,169.6 L574.5,170.9 L575.5,169.9 L576.5,171.0 L577.5,172.1 L578.5,171.6 L579.5,170.2 L580.5,170.6 L581.5,172.0 L582.5,173.2 L583.5,174.9 L584.5,173.7 L585.5,174.2 L586.5,175.3 L587.5,175.3 L588.5,173.6 L589.5,175.8 L590.5,178.4 L591.5,178.8 L592.5,177.4 L593.5,177.2 L594.5,177.8 L595.5,180.3 L596.5,180.0 L597.5,179.5 L598.5,180.7 L599.5,179.9 L600.5,181.4 L601.5,180.1 L602.5,179.7 L603.5,180.7 L604.5,181.9 L605.5,182.0 L606.5,181.9 L607.5,180.1 L608.5,180.3 L609.5,180.6 L610.5,181.0 L611.5,182.3 L612.5,182.2 L613.5,183.3 L614.5,183.4 L615.5,183.2 L616.5,183.6 L617.5,184.2 L618.5,185.1 L619.5,184.4 L620.5,184.4 L621.5,183.3 L622.5,185.4 L623.5,186.4 L624.5,185.4 L625.5,184.7 L626.5,183.7 L627.5,184.5 L628.5,185.0 L629.5,186.9 L630.5,186.3 L631.5,185.1 L632.5,183.0 L633.5,185.4 L634.5,185.6 L635.5,184.1 L636.5,185.0 L637.5,183.8 L638.5,187.8 L639.5,187.7 L640.5,187.2 L641.5,186.4 L642.5,184.2 L643.5,184.9 L644.5,184.1 L645.5,185.6 L646.5,183.9 L647.5,184.2 L648.5,186.3 L649.5,187.7 L650.5,186.0 L651.5,184.8 L652.5,186.4 L653.5,187.2 L654.5,186.0 L655.5,186.8 L656.5,188.8 L657.5,190.5 L658.5,192.9 L659.5,196.9 L660.5,199.6 L661.5,203.2 L662.5,204.3 L663.5,205.8 L664.5,207.0 L665.5,209.5 L666.5,210.8 L667.5,212.1 L668.5,216.1 L669.5,219.8 L670.5,222.3 L671.5,225.1 L672.5,225.6 L673.5,224.4 L674.5,224.6 L675.5,224.3 L676.5,223.6 L677.5,222.7 L678.5,222.5 L679.5,223.8 L680.5,224.5 L681.5,224.4 L682.5,226.1 L683.5,225.8 L684.5,226.1 L685.5,226.8 L686.5,225.4 L687.5,223.8 L688.5,225.3 L689.5,224.9 L690.5,226.5 L691.5,226.5 L692.5,227.1 L693.5,227.2 L694.5,224.8" stroke="#3f6cc4" stroke-width="3.2" fill="none" stroke-linejoin="round" stroke-linecap="round" />
<path d="M475.5,27.7 L476.5,31.4 L477.5,34.3 L478.5,37.0 L479.5,39.4 L480.5,39.9 L481.5,40.3 L482.5,42.8 L483.5,42.3 L484.5,41.9 L485.5,41.6 L486.5,42.4 L487.5,44.1 L488.5,45.4 L489.5,46.5 L490.5,47.9 L491.5,48.7 L492.5,48.4 L493.5,49.1 L494.5,49.1 L495.5,49.1 L496.5,51.0 L497.5,51.9 L498.5,52.8 L499.5,55.9 L500.5,57.0 L501.5,57.4 L502.5,59.0 L503.5,62.8 L504.5,63.4 L505.5,65.4 L506.5,67.3 L507.5,69.0 L508.5,70.9 L509.5,71.8 L510.5,73.2 L511.5,75.0 L512.5,76.7 L513.5,79.5 L514.5,82.5 L515.5,82.7 L516.5,85.0 L517.5,85.8 L518.5,87.3 L519.5,89.4 L520.5,91.7 L521.5,93.4 L522.5,93.2 L523.5,97.6 L524.5,99.3 L525.5,100.5 L526.5,102.2 L527.5,102.2 L528.5,101.9 L529.5,103.7 L530.5,105.0 L531.5,104.8 L532.5,106.6 L533.5,107.4 L534.5,107.0 L535.5,109.9 L536.5,110.4 L537.5,109.9 L538.5,111.5 L539.5,112.4 L540.5,114.1 L541.5,113.3 L542.5,115.5 L543.5,116.9 L544.5,117.9 L545.5,118.7 L546.5,120.2 L547.5,120.6 L548.5,120.4 L549.5,119.8 L550.5,121.4 L551.5,122.4 L552.5,122.5 L553.5,122.7 L554.5,123.5 L555.5,121.3 L556.5,123.0 L557.5,121.6 L558.5,123.6 L559.5,125.6 L560.5,127.5 L561.5,126.5 L562.5,127.0 L563.5,127.0 L564.5,125.3 L565.5,127.3 L566.5,127.8 L567.5,128.4 L568.5,127.9 L569.5,128.7 L570.5,129.4 L571.5,131.0 L572.5,131.2 L573.5,134.2 L574.5,132.4 L575.5,131.8 L576.5,131.8 L577.5,131.3 L578.5,133.2 L579.5,133.6 L580.5,132.2 L581.5,132.9 L582.5,134.3 L583.5,132.8 L584.5,133.7 L585.5,133.9 L586.5,136.4 L587.5,136.1 L588.5,135.4 L589.5,135.0 L590.5,137.2 L591.5,136.3 L592.5,138.5 L593.5,136.3 L594.5,136.5 L595.5,136.8 L596.5,136.6 L597.5,137.2 L598.5,138.4 L599.5,137.9 L600.5,137.1 L601.5,139.3 L602.5,140.7 L603.5,139.6 L604.5,140.0 L605.5,137.8 L606.5,140.1 L607.5,139.2 L608.5,139.6 L609.5,142.4 L610.5,140.8 L611.5,141.3 L612.5,140.7 L613.5,139.9 L614.5,140.2 L615.5,141.8 L616.5,141.3 L617.5,141.8 L618.5,143.4 L619.5,143.5 L620.5,142.6 L621.5,144.7 L622.5,144.6 L623.5,145.8 L624.5,144.3 L625.5,146.0 L626.5,144.3 L627.5,143.1 L628.5,143.8 L629.5,144.2 L630.5,145.1 L631.5,144.9 L632.5,145.9 L633.5,147.1 L634.5,146.1 L635.5,144.9 L636.5,145.3 L637.5,146.7 L638.5,147.4 L639.5,146.9 L640.5,146.1 L641.5,146.6 L642.5,147.8 L643.5,147.0 L644.5,148.5 L645.5,148.3 L646.5,148.4 L647.5,147.7 L648.5,149.2 L649.5,148.8 L650.5,147.4 L651.5,148.8 L652.5,148.4 L653.5,150.8 L654.5,152.9 L655.5,154.5 L656.5,157.2 L657.5,159.1 L658.5,161.0 L659.5,163.9 L660.5,167.2 L661.5,169.4 L662.5,171.6 L663.5,173.6 L664.5,177.0 L665.5,179.8 L666.5,183.1 L667.5,185.6 L668.5,189.8 L669.5,189.9 L670.5,191.3 L671.5,191.9 L672.5,192.5 L673.5,190.6 L674.5,190.0 L675.5,190.7 L676.5,192.0 L677.5,192.7 L678.5,190.7 L679.5,191.2 L680.5,192.4 L681.5,192.0 L682.5,190.8 L683.5,190.5 L684.5,189.8 L685.5,191.7 L686.5,191.4 L687.5,191.0 L688.5,190.5 L689.5,190.9 L690.5,190.4 L691.5,190.0 L692.5,190.7 L693.5,190.9 L694.5,191.6" stroke="#f4861f" stroke-width="3.2" fill="none" stroke-linejoin="round" stroke-linecap="round" />
<path d="M475.5,40.6 L476.5,44.4 L477.5,44.6 L478.5,43.9 L479.5,45.7 L480.5,47.3 L481.5,48.0 L482.5,48.8 L483.5,48.7 L484.5,48.4 L485.5,48.2 L486.5,48.9 L487.5,49.3 L488.5,51.2 L489.5,51.9 L490.5,50.4 L491.5,52.0 L492.5,52.2 L493.5,53.8 L494.5,55.2 L495.5,55.1 L496.5,52.5 L497.5,54.4 L498.5,53.3 L499.5,56.6 L500.5,56.1 L501.5,57.0 L502.5,60.4 L503.5,58.7 L504.5,60.5 L505.5,60.7 L506.5,62.1 L507.5,63.0 L508.5,65.8 L509.5,66.7 L510.5,68.4 L511.5,70.3 L512.5,69.1 L513.5,72.5 L514.5,72.5 L515.5,71.4 L516.5,72.3 L517.5,74.9 L518.5,76.7 L519.5,76.1 L520.5,77.1 L521.5,78.1 L522.5,79.9 L523.5,79.9 L524.5,81.5 L525.5,80.5 L526.5,80.5 L527.5,82.3 L528.5,83.6 L529.5,83.6 L530.5,84.7 L531.5,85.1 L532.5,86.2 L533.5,87.5 L534.5,87.7 L535.5,88.4 L536.5,87.7 L537.5,87.5 L538.5,85.6 L539.5,88.1 L540.5,89.2 L541.5,90.4 L542.5,88.5 L543.5,89.3 L544.5,89.9 L545.5,88.9 L546.5,91.7 L547.5,93.7 L548.5,92.0 L549.5,93.4 L550.5,95.7 L551.5,93.7 L552.5,95.4 L553.5,97.2 L554.5,98.6 L555.5,95.8 L556.5,95.0 L557.5,96.3 L558.5,98.4 L559.5,96.8 L560.5,96.8 L561.5,96.7 L562.5,99.4 L563.5,99.1 L564.5,100.4 L565.5,101.3 L566.5,102.4 L567.5,102.3 L568.5,102.2 L569.5,103.3 L570.5,103.1 L571.5,101.2 L572.5,101.2 L573.5,103.0 L574.5,103.2 L575.5,102.9 L576.5,103.7 L577.5,107.7 L578.5,106.0 L579.5,106.0 L580.5,106.1 L581.5,105.5 L582.5,107.1 L583.5,107.6 L584.5,107.5 L585.5,105.7 L586.5,107.9 L587.5,108.5 L588.5,107.9 L589.5,104.7 L590.5,106.2 L591.5,105.7 L592.5,106.7 L593.5,107.0 L594.5,106.8 L595.5,109.0 L596.5,109.1 L597.5,110.6 L598.5,108.9 L599.5,109.0 L600.5,111.0 L601.5,111.0 L602.5,109.9 L603.5,109.4 L604.5,109.6 L605.5,110.4 L606.5,111.9 L607.5,112.1 L608.5,113.1 L609.5,113.9 L610.5,113.6 L611.5,114.9 L612.5,115.1 L613.5,114.4 L614.5,114.2 L615.5,114.5 L616.5,114.0 L617.5,113.3 L618.5,114.7 L619.5,115.0 L620.5,116.5 L621.5,116.0 L622.5,116.6 L623.5,117.1 L624.5,116.7 L625.5,117.4 L626.5,116.8 L627.5,116.9 L628.5,118.5 L629.5,118.9 L630.5,118.8 L631.5,118.0 L632.5,119.3 L633.5,121.6 L634.5,118.1 L635.5,120.1 L636.5,120.3 L637.5,121.5 L638.5,122.3 L639.5,120.3 L640.5,122.5 L641.5,121.1 L642.5,120.9 L643.5,121.9 L644.5,121.7 L645.5,122.1 L646.5,121.5 L647.5,120.7 L648.5,121.6 L649.5,120.9 L650.5,123.5 L651.5,123.6 L652.5,125.1 L653.5,124.9 L654.5,127.1 L655.5,130.0 L656.5,135.9 L657.5,139.9 L658.5,145.9 L659.5,149.0 L660.5,152.8 L661.5,158.7 L662.5,163.1 L663.5,168.6 L664.5,173.7 L665.5,177.9 L666.5,180.3 L667.5,184.0 L668.5,191.7 L669.5,194.8 L670.5,199.1 L671.5,203.2 L672.5,203.7 L673.5,203.4 L674.5,202.8 L675.5,202.5 L676.5,200.6 L677.5,203.9 L678.5,203.5 L679.5,201.9 L680.5,203.2 L681.5,204.0 L682.5,202.0 L683.5,202.0 L684.5,204.3 L685.5,204.4 L686.5,204.2 L687.5,204.8 L688.5,203.8 L689.5,203.1 L690.5,204.9 L691.5,203.7 L692.5,203.3 L693.5,203.8 L694.5,203.4" stroke="#e8302a" stroke-width="3.6" fill="none" stroke-linejoin="round" stroke-linecap="round" />
<path d="M659.4,80.8 L689.3,57.1" stroke="#111" stroke-width="1.3"/>
<path d="M655,121.4 L684.8,97.8" stroke="#111" stroke-width="1.3"/>
<path d="M655.3,144.7 L685.6,121.3" stroke="#111" stroke-width="1.3"/>
<path d="M655.8,184.5 L685.6,161.7" stroke="#111" stroke-width="1.3"/>
<path d="M655.8,197.8 L685.6,173.9" stroke="#111" stroke-width="1.3"/>
<text x="693" y="53.5" font-size="15.6" fill="#999" font-weight="normal" text-anchor="start" >empty</text>
<text x="693" y="68.5" font-size="15.6" fill="#999" font-weight="normal" text-anchor="start" >vesicles</text>
<text x="688.5" y="103.6" font-size="15.6" fill="#e3333a" font-weight="normal" text-anchor="start" >NMDG-Cl</text>
<text x="688.5" y="126" font-size="15.6" fill="#f08a2e" font-weight="normal" text-anchor="start" >+ Gβγ</text>
<text x="689.5" y="165.1" font-size="15.6" fill="#3a78c8" font-weight="normal" text-anchor="start" >NaCl</text>
<text x="688.5" y="179.7" font-size="15.6" fill="#1a9450" font-weight="normal" text-anchor="start" >+ Gβγ</text>
<text x="123" y="341.7" font-size="15.6" fill="#111" font-weight="normal" text-anchor="start" >ACh</text>
<text x="200.6" y="341.7" font-size="15.6" fill="#111" font-weight="normal" text-anchor="start" >TPN-Q</text>
<rect x="6.5" y="346.5" width="349" height="19.5" fill="#fff" stroke="#555" stroke-width="1.2"/>
<rect x="28.6" y="346.5" width="229" height="19.5" fill="#d3d3d3" stroke="#555" stroke-width="1.2"/>
<path d="M86.6,346.5 V366 M189.5,346.5 V366" stroke="#555" stroke-width="1.2"/>
<text x="33.5" y="361.5" font-size="15.6" fill="#777" font-weight="normal" text-anchor="start" >high K<tspan font-size="8" dy="-6">+</tspan></text>
<path d="M6.5,379.5 H355" stroke="#333" stroke-width="0.9" stroke-dasharray="3.5,2.5"/>
<path d="M6.6,382.5 L7.9,382.5 L9.6,382.5 L11.7,382.5 L14.0,382.5 L16.1,382.5 L18.0,382.5 L19.7,382.5 L21.4,382.5 L23.1,382.5 L24.6,382.5 L25.9,382.5 L27.0,382.5 L27.7,382.4 L28.1,382.2 L28.3,382.1 L28.4,382.1 L28.5,382.3 L28.8,383.0 L29.2,384.0 L29.5,385.1 L29.9,386.6 L30.3,388.4 L30.8,390.8 L31.3,393.8 L31.9,397.9 L32.5,403.0 L33.1,408.6 L33.8,414.3 L34.5,419.5 L35.2,423.7 L35.9,427.0 L36.6,429.6 L37.4,431.8 L38.2,433.7 L39.1,435.4 L40.2,437.0 L41.4,438.5 L42.7,439.7 L44.2,440.6 L45.7,441.5 L47.4,442.3 L49.2,443.0 L51.1,443.7 L53.0,444.4 L55.0,444.9 L57.2,445.4 L59.7,445.8 L62.6,446.0 L66.2,446.0 L70.5,445.6 L75.2,445.2 L79.6,444.9 L83.5,444.8 L86.4,445.1 L88.1,445.8 L88.8,446.6 L89.0,447.8 L88.9,449.2 L89.0,451.1 L89.4,453.5 L90.2,456.6 L91.1,460.4 L92.0,464.6 L93.1,469.0 L94.2,473.3 L95.4,477.3 L96.6,481.0 L97.9,484.7 L99.3,488.3 L100.8,491.8 L102.4,495.1 L104.3,498.2 L106.4,501.1 L108.6,504.0 L111.0,506.6 L113.6,509.1 L116.3,511.3 L119.2,513.1 L122.0,514.6 L124.7,515.7 L127.6,516.5 L130.9,517.1 L135.0,517.6 L140.1,518.1 L147.0,518.5 L155.7,518.8 L165.1,519.0 L174.3,519.1 L182.2,519.1 L187.8,519.0 L190.8,519.1 L191.8,519.5 L191.6,519.8 L190.7,519.7 L189.8,518.9 L189.6,517.0 L189.9,513.9 L190.2,509.7 L190.5,504.8 L190.8,499.5 L191.0,494.2 L191.3,489.1 L191.5,484.2 L191.7,479.1 L191.8,473.9 L192.0,468.9 L192.2,463.9 L192.5,459.3 L192.9,455.0 L193.3,450.8 L193.7,446.8 L194.3,443.0 L194.8,439.2 L195.5,435.5 L196.3,431.7 L197.1,428.0 L198.0,424.2 L199.0,420.7 L199.9,417.5 L200.8,414.7 L201.6,412.3 L202.5,410.3 L203.3,408.7 L204.0,407.2 L204.8,405.8 L205.6,404.5 L206.3,403.3 L206.9,402.2 L207.5,401.2 L208.2,400.4 L209.0,399.6 L210.0,398.8 L211.1,398.1 L212.4,397.4 L213.7,396.9 L215.2,396.3 L217.0,395.8 L219.0,395.3 L221.5,394.8 L224.5,394.3 L227.7,393.8 L230.9,393.3 L233.7,392.9 L236.0,392.6 L237.6,392.4 L238.9,392.2 L239.8,392.2 L240.4,392.1 L241.0,392.1 L241.5,392.2 L241.9,392.3 L242.1,392.6 L242.2,392.8 L242.3,393.1 L242.4,393.3 L242.5,393.4 L242.7,393.3 L242.8,393.2 L243.0,392.9 L243.2,392.6 L243.5,392.4 L244.0,392.2 L244.7,392.1 L245.5,392.0 L246.5,391.9 L247.5,391.8 L248.3,391.7 L249.0,391.6 L249.5,391.4 L249.8,391.2 L250.0,390.9 L250.1,390.7 L250.3,390.5 L250.5,390.4 L250.7,390.5 L250.9,390.6 L251.1,390.9 L251.3,391.1 L251.6,391.3 L252.0,391.4 L252.6,391.4 L253.3,391.3 L254.2,391.2 L255.0,391.0 L255.8,390.8 L256.5,390.6 L257.1,390.3 L257.6,390.0 L258.0,389.6 L258.5,389.3 L259.0,388.9 L259.5,388.6 L260.0,388.3 L260.5,388.1 L261.0,387.8 L261.6,387.6 L262.4,387.4 L263.4,387.2 L264.8,387.0 L266.6,386.7 L268.6,386.5 L270.6,386.3 L272.3,386.2 L273.5,386.2 L274.2,386.3 L274.5,386.6 L274.6,386.9 L274.6,387.3 L274.5,387.5 L274.6,387.6 L274.7,387.5 L274.8,387.2 L274.8,386.8 L274.9,386.4 L275.2,386.1 L275.8,385.8 L276.4,385.6 L276.8,385.5 L277.4,385.3 L278.5,385.2 L280.4,385.1 L283.5,385.0 L288.4,384.8 L295.0,384.7 L302.4,384.5 L309.7,384.3 L316.1,384.2 L320.5,384.2 L322.8,384.3 L323.5,384.5 L323.2,384.8 L322.5,385.1 L321.8,385.3 L321.5,385.4 L321.3,385.3 L320.7,385.2 L320.1,385.0 L319.9,384.7 L320.5,384.4 L322.5,384.2 L326.4,384.0 L332.1,383.7 L338.7,383.4 L345.2,383.2 L350.8,383.0 L354.7,382.8" stroke="#111" stroke-width="1.6" fill="none" stroke-linejoin="round" stroke-linecap="round" />
<path d="M352.3,502.2 H313.9 V519.4" stroke="#111" stroke-width="2" fill="none"/>
<text x="333.5" y="497.5" font-size="13.5" fill="#111" font-weight="normal" text-anchor="middle" >10 s</text>
<text x="266.4" y="514.4" font-size="13.5" fill="#111" font-weight="normal" text-anchor="start" >100 nA</text>
<text x="453.7" y="342.7" font-size="15.6" fill="#111" font-weight="normal" text-anchor="end" >closed</text>
<text x="453.7" y="369.7" font-size="15.6" fill="#111" font-weight="normal" text-anchor="end" >open</text>
<path d="M463.4,338 H481.7 M463.4,365.5 H481.7" stroke="#111" stroke-width="1.8"/>
<text x="453.7" y="466.7" font-size="15.6" fill="#111" font-weight="normal" text-anchor="end" >closed</text>
<text x="453.7" y="494.3" font-size="15.6" fill="#111" font-weight="normal" text-anchor="end" >open</text>
<path d="M463.4,462.4 H481.7 M463.4,490.5 H481.7" stroke="#111" stroke-width="1.8"/>
<path d="M492.3,331.9 L492.8,331.6 L493.3,331.0 L493.8,332.1 L494.3,330.6 L494.8,331.2 L495.3,331.0 L495.8,330.5 L496.3,331.1 L496.8,330.7 L497.3,329.6 L497.8,332.1 L498.3,331.1 L498.8,332.1 L499.3,331.2 L499.8,330.2 L500.3,330.0 L500.8,331.3 L501.3,327.9 L501.8,329.1 L502.3,332.0 L502.8,328.1 L503.3,329.1 L503.8,332.1 L504.3,331.1 L504.8,329.6 L505.3,330.9 L505.8,331.7 L506.3,332.0 L506.8,331.8 L507.3,331.8 L507.8,331.3 L508.3,332.2 L508.8,328.8 L509.3,331.0 L509.8,331.9 L510.3,329.5 L510.8,327.1 L511.3,329.7 L511.8,332.1 L512.3,330.1 L512.8,332.1 L513.3,330.4 L513.8,331.8 L514.3,330.8 L514.8,331.6 L515.3,330.4 L515.8,331.3 L516.3,328.4 L516.8,332.1 L517.3,330.3 L517.8,330.8 L518.3,332.2 L518.8,329.9 L519.3,329.3 L519.8,331.7 L520.3,331.6 L520.8,331.0 L521.3,331.1 L521.8,331.1 L522.3,332.0 L522.8,329.3 L523.3,332.1 L523.8,330.8 L524.3,331.0 L524.8,330.2 L525.3,330.1 L525.8,328.4 L526.3,331.1 L526.8,332.1 L527.3,330.0 L527.8,332.1 L528.3,330.2 L528.8,329.1 L529.3,330.3 L529.8,329.8 L530.3,332.0 L530.8,332.0 L531.3,332.0 L531.8,328.8 L532.3,332.1 L532.8,329.6 L533.3,331.8 L533.8,331.3 L534.3,329.7 L534.8,331.8 L535.3,330.1 L535.8,330.4 L536.3,331.2 L536.8,331.2 L537.3,330.2 L537.8,330.5 L538.3,329.7 L538.8,331.9 L539.3,330.2 L539.8,331.7 L540.3,330.2 L540.8,331.8 L541.3,331.9 L541.8,330.2 L542.3,329.7 L542.8,329.0 L543.3,330.4 L543.8,331.8 L544.3,329.2 L544.8,330.0 L545.3,332.1 L545.8,331.9 L546.3,330.3 L546.8,329.1 L547.3,330.8 L547.8,331.9 L548.3,330.7 L548.8,331.9 L549.3,330.2 L549.8,331.6 L550.3,330.0 L550.8,331.9 L551.3,332.0 L551.8,329.6 L552.3,328.3 L552.8,329.0 L553.3,331.2 L553.8,331.3 L554.3,331.2 L554.8,330.1 L555.3,330.4 L555.8,332.1 L556.3,328.7 L556.8,331.4 L557.3,331.2 L557.8,330.9 L558.3,329.6 L558.8,328.9 L559.3,331.2 L559.8,330.7 L560.3,332.1 L560.8,330.5 L561.3,329.1 L561.8,331.9 L562.3,330.7 L562.8,331.1 L563.3,329.9 L563.8,330.1 L564.3,329.1 L564.8,329.3 L565.3,332.0 L565.8,329.0 L566.3,330.8 L566.8,331.6 L567.3,330.7 L567.8,328.8 L568.3,331.5 L568.8,330.9 L569.3,331.3 L569.8,331.4 L570.3,328.3 L570.8,331.2 L571.3,328.7 L571.8,328.0 L572.3,331.1 L572.8,328.5 L573.3,330.4 L573.8,331.5 L574.3,330.8 L574.8,331.5 L575.3,330.9 L575.8,327.4 L576.3,331.1 L576.8,331.9 L577.3,331.9 L577.8,328.6 L578.3,329.4 L578.8,331.9 L579.3,331.8 L579.8,331.5 L580.3,330.4 L580.8,328.5 L581.3,329.6 L581.8,331.1 L582.3,331.0 L582.8,329.8 L583.3,331.8 L583.8,330.2 L584.3,332.2 L584.8,331.1 L585.3,330.1 L585.8,331.2 L586.3,332.1 L586.8,330.6 L587.3,332.2 L587.8,331.8 L588.3,331.5 L588.8,332.2 L589.3,331.9 L589.8,332.0 L590.3,331.4 L590.8,327.9 L591.3,330.1 L591.8,330.7 L592.3,331.4 L592.8,331.3 L593.3,330.8 L593.8,331.5 L594.3,331.9 L594.8,329.9 L595.3,330.4 L595.8,328.8 L596.3,330.7 L596.8,330.6 L597.3,331.8 L597.8,331.1 L598.3,331.3 L598.8,330.4 L599.3,331.8 L599.8,331.1 L600.3,330.8 L600.8,330.8 L601.3,331.1 L601.8,329.4 L602.3,328.6 L602.8,331.4 L603.3,330.5 L603.8,332.2 L604.3,331.3 L604.8,330.6 L605.3,332.2 L605.8,331.3 L606.3,328.2 L606.8,330.2 L607.3,329.1 L607.8,330.9 L608.3,331.0 L608.8,331.1 L609.3,331.4 L609.8,332.1 L610.3,331.8 L610.8,329.9 L611.3,332.2 L611.8,331.8 L612.3,330.8 L612.8,329.3 L613.3,328.2 L613.8,332.2 L614.3,331.0 L614.8,330.1 L615.3,332.1 L615.8,329.9 L616.3,331.9 L616.8,325.6 L617.3,330.3 L617.8,329.3 L618.3,330.3 L618.8,330.1 L619.3,330.4 L619.8,331.3 L620.3,330.6 L620.8,331.8 L621.3,329.9 L621.8,328.0 L622.3,329.9 L622.8,329.2 L623.3,329.6 L623.8,330.3 L624.3,331.6 L624.8,329.5 L625.3,331.5 L625.8,330.6 L626.3,331.7 L626.8,330.0 L627.3,329.0 L627.8,330.3 L628.3,331.8 L628.8,331.4 L629.3,330.3 L629.8,330.8 L630.3,332.1 L630.8,331.9 L631.3,328.8 L631.8,331.0 L632.3,329.1 L632.8,330.4 L633.3,331.5 L633.8,330.2 L634.3,329.3 L634.8,329.4 L635.3,329.8 L635.8,327.6 L636.3,331.2 L636.8,332.0 L637.3,330.6 L637.8,332.1 L638.3,330.7 L638.8,331.8 L639.3,332.1 L639.8,331.5 L640.3,332.1 L640.8,329.1 L641.3,330.9 L641.8,331.9 L642.3,327.9 L642.8,332.2 L643.3,330.7 L643.8,331.5 L644.3,331.2 L644.8,330.5 L645.3,329.9 L645.8,330.2 L646.3,331.4 L646.8,331.6 L647.3,331.2 L647.8,331.6 L648.3,329.0 L648.8,331.1 L649.3,331.9 L649.8,331.5 L650.3,330.0 L650.8,331.7 L651.3,330.1 L651.8,331.3 L652.3,331.5 L652.8,331.2 L653.3,327.6 L653.8,331.8 L654.3,331.1 L654.8,330.3 L655.3,331.2 L655.8,330.7 L656.3,332.2 L656.8,331.5 L657.3,331.8 L657.8,331.1 L658.3,331.4 L658.8,331.5 L659.3,328.1 L659.8,327.4 L660.3,331.3 L660.8,331.3 L661.3,331.3 L661.8,331.7 L662.3,329.3 L662.8,328.6 L663.3,331.3 L663.8,331.1 L664.3,331.3 L664.8,328.8 L665.3,332.0 L665.8,331.3 L666.3,331.6 L666.8,330.6 L667.3,328.6 L667.8,330.7 L668.3,330.1 L668.8,328.0 L669.3,328.8 L669.8,331.5 L670.3,331.6 L670.8,330.9 L671.3,332.2 L671.8,331.2 L672.3,329.0 L672.8,328.8 L673.3,328.2 L673.8,330.5 L674.3,329.3 L674.8,331.9 L675.3,330.5 L675.8,331.4 L676.3,331.1 L676.8,331.3 L677.3,332.1 L677.8,331.4 L678.3,330.2 L678.8,328.9 L679.3,331.5 L679.8,328.9 L680.3,331.2 L680.8,329.8 L681.3,331.2 L681.8,327.6 L682.3,332.1 L682.8,330.3 L683.3,331.7 L683.8,330.4 L684.3,332.0 L684.8,329.8 L685.3,329.7 L685.8,331.9 L686.3,328.8 L686.8,330.1 L687.3,329.3 L687.8,329.0 L688.3,330.2 L688.8,331.9 L689.3,330.9 L689.8,332.0 L690.3,331.3 L690.8,330.9 L691.3,331.3 L691.8,330.2 L692.3,331.1 L692.8,331.1 L693.3,331.1 L693.8,329.9 L694.3,329.3 L694.8,330.1 L695.3,331.8 L695.8,331.2 L696.3,329.9 L696.8,331.8 L697.3,330.2 L697.8,329.1 L698.3,331.6 L698.8,330.6 L699.3,331.9 L699.8,329.1 L700.3,331.3 L700.8,329.8 L701.3,331.6 L701.8,328.1 L702.3,329.6 L702.8,331.1 L703.3,330.3 L703.8,331.8 L704.3,331.0 L704.8,330.9 L705.3,331.3 L705.8,332.2 L706.3,329.4 L706.8,330.6 L707.3,330.2 L707.8,332.0 L708.3,331.1 L708.8,332.2 L709.3,332.1 L709.8,330.9 L710.3,329.4 L710.8,330.6 L711.3,331.3 L711.8,331.8 L712.3,331.6 L712.8,329.8 L713.3,331.4 L713.8,329.9 L714.3,331.8 L714.8,331.1 L715.3,329.9 L715.8,330.0 L716.3,329.3 L716.8,330.6 L717.3,330.3 L717.8,331.3 L718.3,330.8 L718.8,329.7 L719.3,331.3 L719.8,330.8 L720.3,331.5 L720.8,329.1 L721.3,330.4 L721.8,332.1 L722.3,330.9 L722.8,328.8 L723.3,331.5 L723.8,330.4 L724.3,331.3 L724.8,331.3 L725.3,330.3 L725.8,331.4 L726.3,331.4 L726.8,331.6 L727.3,332.2 L727.8,329.7 L728.3,330.7 L728.8,330.6 L729.3,330.3 L729.8,329.5 L730.3,331.8 L730.8,331.6 L731.3,329.7 L731.8,330.8 L732.3,331.5 L732.8,330.0 L733.3,331.4 L733.8,331.5 L734.3,331.1 L734.8,330.9 L735.3,330.7 L735.8,328.9 L736.3,331.4 L736.8,329.5 L737.3,330.5 L737.8,329.2 L738.3,330.8 L738.8,331.2 L739.3,327.7 L739.8,331.0 L740.3,331.8 L740.8,329.8 L741.3,330.4 L741.8,330.6 L742.3,330.5 L742.8,331.8 L743.3,331.9 L743.8,331.8 L744.3,331.2 L744.8,332.1 L745.3,331.2 L745.8,332.1 L746.3,331.6 L746.8,330.7 L747.3,329.5 L747.8,331.0 L748.3,331.4 L748.8,331.5 L749.3,331.4 L749.8,327.4 L750.3,326.5 L750.8,331.6 L751.3,328.7 L751.8,331.3 L752.3,331.4 L752.8,330.7 L753.3,327.3 L753.8,332.1 L754.3,331.8 L754.8,330.3 L755.3,331.7 L755.8,331.3 L756.3,328.6 L756.8,332.2 L757.3,329.6 L757.3,343.9 L756.8,345.6 L756.3,346.4 L755.8,345.5 L755.3,344.8 L754.8,344.1 L754.3,345.6 L753.8,347.4 L753.3,345.4 L752.8,345.0 L752.3,344.1 L751.8,344.3 L751.3,344.6 L750.8,344.1 L750.3,346.0 L749.8,344.2 L749.3,346.1 L748.8,343.9 L748.3,345.3 L747.8,345.5 L747.3,345.1 L746.8,346.9 L746.3,347.4 L745.8,346.8 L745.3,345.0 L744.8,345.1 L744.3,344.4 L743.8,343.8 L743.3,345.8 L742.8,345.1 L742.3,348.2 L741.8,345.0 L741.3,344.6 L740.8,346.4 L740.3,350.8 L739.8,344.0 L739.3,347.0 L738.8,346.1 L738.3,347.2 L737.8,344.7 L737.3,344.4 L736.8,345.2 L736.3,349.5 L735.8,345.7 L735.3,346.5 L734.8,347.5 L734.3,345.7 L733.8,346.8 L733.3,347.8 L732.8,343.9 L732.3,345.1 L731.8,345.4 L731.3,344.2 L730.8,344.0 L730.3,344.1 L729.8,344.2 L729.3,344.3 L728.8,344.8 L728.3,346.6 L727.8,347.8 L727.3,345.0 L726.8,344.9 L726.3,345.0 L725.8,344.4 L725.3,344.9 L724.8,346.5 L724.3,346.2 L723.8,344.5 L723.3,343.9 L722.8,345.8 L722.3,344.0 L721.8,343.8 L721.3,343.9 L720.8,343.9 L720.3,345.8 L719.8,344.1 L719.3,344.4 L718.8,345.1 L718.3,345.4 L717.8,344.7 L717.3,345.1 L716.8,344.2 L716.3,345.0 L715.8,345.8 L715.3,347.2 L714.8,346.3 L714.3,344.3 L713.8,346.1 L713.3,345.6 L712.8,345.1 L712.3,343.9 L711.8,349.3 L711.3,344.1 L710.8,345.0 L710.3,345.1 L709.8,346.7 L709.3,344.5 L708.8,345.9 L708.3,346.3 L707.8,343.8 L707.3,345.9 L706.8,344.5 L706.3,343.9 L705.8,343.9 L705.3,345.2 L704.8,344.3 L704.3,344.1 L703.8,345.5 L703.3,345.7 L702.8,344.3 L702.3,344.4 L701.8,344.2 L701.3,344.3 L700.8,343.9 L700.3,344.7 L699.8,344.5 L699.3,345.0 L698.8,344.3 L698.3,346.0 L697.8,343.9 L697.3,349.6 L696.8,345.8 L696.3,345.6 L695.8,345.3 L695.3,344.0 L694.8,343.9 L694.3,344.3 L693.8,343.8 L693.3,345.0 L692.8,344.7 L692.3,347.4 L691.8,345.1 L691.3,345.4 L690.8,346.7 L690.3,344.5 L689.8,345.4 L689.3,343.9 L688.8,344.5 L688.3,344.0 L687.8,346.3 L687.3,343.8 L686.8,344.8 L686.3,344.2 L685.8,344.2 L685.3,344.3 L684.8,345.0 L684.3,344.4 L683.8,344.8 L683.3,345.5 L682.8,344.9 L682.3,345.4 L681.8,344.7 L681.3,343.9 L680.8,345.8 L680.3,344.4 L679.8,344.7 L679.3,346.3 L678.8,345.5 L678.3,345.0 L677.8,347.1 L677.3,343.9 L676.8,344.3 L676.3,345.9 L675.8,348.8 L675.3,346.1 L674.8,345.7 L674.3,346.0 L673.8,345.4 L673.3,344.6 L672.8,343.9 L672.3,344.9 L671.8,345.5 L671.3,345.5 L670.8,343.9 L670.3,345.0 L669.8,344.2 L669.3,348.2 L668.8,346.1 L668.3,343.9 L667.8,346.2 L667.3,344.4 L666.8,346.3 L666.3,344.9 L665.8,345.0 L665.3,344.7 L664.8,344.4 L664.3,347.7 L663.8,347.2 L663.3,344.0 L662.8,347.1 L662.3,345.8 L661.8,344.4 L661.3,344.1 L660.8,346.2 L660.3,344.3 L659.8,343.9 L659.3,345.3 L658.8,345.0 L658.3,346.7 L657.8,346.5 L657.3,346.5 L656.8,346.8 L656.3,345.3 L655.8,344.0 L655.3,345.6 L654.8,345.5 L654.3,345.1 L653.8,344.0 L653.3,344.2 L652.8,346.2 L652.3,347.4 L651.8,345.9 L651.3,344.6 L650.8,346.4 L650.3,344.2 L649.8,344.5 L649.3,344.5 L648.8,344.7 L648.3,346.2 L647.8,344.9 L647.3,345.5 L646.8,345.8 L646.3,344.4 L645.8,344.3 L645.3,343.9 L644.8,344.9 L644.3,344.3 L643.8,344.2 L643.3,345.1 L642.8,344.0 L642.3,344.2 L641.8,344.6 L641.3,344.2 L640.8,344.6 L640.3,344.6 L639.8,346.2 L639.3,345.8 L638.8,346.3 L638.3,344.0 L637.8,344.4 L637.3,345.8 L636.8,345.8 L636.3,344.3 L635.8,344.5 L635.3,344.1 L634.8,344.3 L634.3,348.0 L633.8,344.1 L633.3,345.6 L632.8,344.0 L632.3,343.9 L631.8,345.0 L631.3,344.5 L630.8,344.2 L630.3,344.1 L629.8,344.4 L629.3,345.3 L628.8,347.0 L628.3,347.0 L627.8,344.5 L627.3,345.2 L626.8,344.9 L626.3,343.9 L625.8,345.9 L625.3,345.7 L624.8,345.7 L624.3,344.6 L623.8,348.8 L623.3,344.5 L622.8,344.2 L622.3,344.5 L621.8,346.0 L621.3,344.8 L620.8,344.3 L620.3,344.8 L619.8,347.3 L619.3,345.1 L618.8,345.2 L618.3,347.3 L617.8,344.9 L617.3,347.4 L616.8,344.3 L616.3,344.2 L615.8,344.9 L615.3,344.4 L614.8,344.1 L614.3,344.9 L613.8,344.8 L613.3,344.8 L612.8,346.3 L612.3,346.3 L611.8,346.4 L611.3,344.1 L610.8,343.9 L610.3,344.4 L609.8,344.7 L609.3,346.0 L608.8,344.6 L608.3,344.4 L607.8,346.0 L607.3,345.1 L606.8,344.4 L606.3,345.3 L605.8,344.9 L605.3,346.1 L604.8,345.1 L604.3,345.1 L603.8,345.5 L603.3,344.4 L602.8,344.5 L602.3,346.7 L601.8,344.7 L601.3,345.0 L600.8,346.1 L600.3,344.3 L599.8,345.0 L599.3,346.1 L598.8,346.0 L598.3,345.1 L597.8,343.8 L597.3,344.3 L596.8,344.9 L596.3,345.5 L595.8,348.2 L595.3,346.5 L594.8,344.7 L594.3,345.6 L593.8,344.6 L593.3,344.6 L592.8,345.0 L592.3,344.8 L591.8,346.4 L591.3,344.8 L590.8,345.2 L590.3,345.2 L589.8,347.1 L589.3,345.8 L588.8,344.6 L588.3,344.9 L587.8,345.8 L587.3,344.9 L586.8,345.3 L586.3,344.8 L585.8,345.8 L585.3,345.8 L584.8,344.3 L584.3,347.0 L583.8,344.9 L583.3,344.4 L582.8,344.9 L582.3,344.1 L581.8,346.8 L581.3,348.4 L580.8,344.9 L580.3,344.0 L579.8,346.9 L579.3,345.7 L578.8,344.3 L578.3,344.1 L577.8,343.9 L577.3,344.9 L576.8,347.5 L576.3,345.2 L575.8,345.0 L575.3,347.4 L574.8,344.2 L574.3,346.1 L573.8,345.6 L573.3,346.9 L572.8,344.3 L572.3,345.7 L571.8,345.9 L571.3,344.5 L570.8,346.3 L570.3,344.5 L569.8,346.3 L569.3,344.9 L568.8,346.1 L568.3,346.6 L567.8,346.2 L567.3,343.9 L566.8,345.3 L566.3,345.6 L565.8,344.0 L565.3,347.3 L564.8,344.9 L564.3,344.6 L563.8,345.1 L563.3,344.7 L562.8,344.8 L562.3,345.9 L561.8,345.4 L561.3,345.5 L560.8,348.3 L560.3,344.3 L559.8,344.2 L559.3,343.9 L558.8,343.9 L558.3,346.0 L557.8,343.9 L557.3,345.4 L556.8,344.0 L556.3,346.8 L555.8,344.9 L555.3,344.2 L554.8,347.6 L554.3,347.5 L553.8,345.0 L553.3,344.3 L552.8,344.9 L552.3,346.0 L551.8,343.8 L551.3,344.6 L550.8,344.3 L550.3,347.0 L549.8,345.5 L549.3,343.8 L548.8,344.9 L548.3,343.9 L547.8,344.9 L547.3,344.3 L546.8,346.6 L546.3,344.1 L545.8,344.6 L545.3,344.0 L544.8,344.1 L544.3,344.4 L543.8,345.0 L543.3,344.7 L542.8,344.0 L542.3,345.1 L541.8,349.5 L541.3,344.1 L540.8,344.4 L540.3,344.2 L539.8,345.4 L539.3,346.2 L538.8,345.2 L538.3,345.4 L537.8,344.2 L537.3,347.6 L536.8,346.4 L536.3,343.9 L535.8,346.1 L535.3,344.5 L534.8,345.2 L534.3,345.9 L533.8,344.0 L533.3,344.0 L532.8,345.1 L532.3,343.9 L531.8,345.5 L531.3,344.4 L530.8,345.2 L530.3,347.3 L529.8,345.4 L529.3,345.2 L528.8,344.6 L528.3,347.4 L527.8,343.9 L527.3,345.0 L526.8,344.1 L526.3,344.9 L525.8,346.4 L525.3,344.7 L524.8,346.6 L524.3,344.6 L523.8,346.7 L523.3,346.2 L522.8,346.3 L522.3,345.2 L521.8,344.0 L521.3,345.1 L520.8,344.0 L520.3,346.7 L519.8,345.0 L519.3,344.2 L518.8,346.8 L518.3,344.5 L517.8,347.0 L517.3,344.9 L516.8,348.6 L516.3,344.4 L515.8,344.7 L515.3,345.1 L514.8,345.0 L514.3,346.0 L513.8,347.5 L513.3,346.0 L512.8,345.4 L512.3,344.8 L511.8,344.6 L511.3,347.2 L510.8,344.5 L510.3,344.7 L509.8,346.6 L509.3,343.9 L508.8,343.8 L508.3,347.4 L507.8,344.7 L507.3,346.2 L506.8,344.8 L506.3,344.6 L505.8,347.2 L505.3,347.9 L504.8,343.9 L504.3,344.3 L503.8,344.6 L503.3,349.0 L502.8,344.2 L502.3,347.4 L501.8,345.5 L501.3,344.9 L500.8,345.6 L500.3,346.3 L499.8,347.0 L499.3,345.6 L498.8,345.0 L498.3,344.8 L497.8,344.2 L497.3,344.0 L496.8,345.6 L496.3,344.9 L495.8,345.1 L495.3,345.8 L494.8,346.2 L494.3,344.2 L493.8,344.0 L493.3,344.0 L492.8,344.2 L492.3,344.1 Z" fill="#000" stroke="#000" stroke-width="0.4"/>
<path d="M509.9,344 V369.1" stroke="#000" stroke-width="1.80"/>
<path d="M512.5,344 V359.8" stroke="#000" stroke-width="1.50"/>
<path d="M516.8,344 V370.5" stroke="#000" stroke-width="1.95"/>
<path d="M517.9,344 V382.4" stroke="#000" stroke-width="1.80"/>
<path d="M519,344 V370" stroke="#000" stroke-width="1.50"/>
<path d="M522.5,344 V362.5" stroke="#000" stroke-width="1.20"/>
<path d="M524.5,344 V360" stroke="#000" stroke-width="1.20"/>
<path d="M526,344 V362" stroke="#000" stroke-width="1.05"/>
<path d="M528.5,344 V369.1" stroke="#000" stroke-width="1.50"/>
<path d="M529.8,344 V366" stroke="#000" stroke-width="1.50"/>
<path d="M543.1,344 V357.2" stroke="#000" stroke-width="1.50"/>
<path d="M547,344 V365.2" stroke="#000" stroke-width="1.50"/>
<path d="M548.5,344 V362" stroke="#000" stroke-width="1.50"/>
<path d="M549.8,344 V365" stroke="#000" stroke-width="1.50"/>
<path d="M556.4,344 V371.8" stroke="#000" stroke-width="1.50"/>
<path d="M557.7,344 V368" stroke="#000" stroke-width="1.50"/>
<path d="M561.7,344 V359.8" stroke="#000" stroke-width="1.35"/>
<path d="M566.4,344 V366.5" stroke="#000" stroke-width="1.50"/>
<path d="M568.4,344 V364" stroke="#000" stroke-width="1.35"/>
<path d="M569.7,344 V369.1" stroke="#000" stroke-width="1.50"/>
<path d="M571,344 V366" stroke="#000" stroke-width="1.35"/>
<path d="M575,344 V374" stroke="#000" stroke-width="1.50"/>
<path d="M576.3,344 V377" stroke="#000" stroke-width="1.65"/>
<path d="M577.6,344 V372" stroke="#000" stroke-width="1.50"/>
<path d="M580.3,344 V363.8" stroke="#000" stroke-width="1.35"/>
<path d="M583,344 V353.2" stroke="#000" stroke-width="1.35"/>
<path d="M590.3,344 V362.5" stroke="#000" stroke-width="1.65"/>
<path d="M608.9,344 V363.2" stroke="#000" stroke-width="1.50"/>
<path d="M611.6,344 V362.5" stroke="#000" stroke-width="1.50"/>
<path d="M613.6,344 V359.8" stroke="#000" stroke-width="1.35"/>
<path d="M624.8,344 V366" stroke="#000" stroke-width="1.80"/>
<path d="M626.5,344 V367.8" stroke="#000" stroke-width="1.80"/>
<path d="M628,344 V364" stroke="#000" stroke-width="1.50"/>
<path d="M629.5,344 V367" stroke="#000" stroke-width="1.65"/>
<path d="M631.5,344 V366" stroke="#000" stroke-width="1.50"/>
<path d="M634.8,344 V353.2" stroke="#000" stroke-width="1.35"/>
<path d="M646.8,344 V365.2" stroke="#000" stroke-width="1.50"/>
<path d="M650,344 V368" stroke="#000" stroke-width="1.65"/>
<path d="M651.5,344 V370" stroke="#000" stroke-width="1.50"/>
<path d="M653,344 V371.1" stroke="#000" stroke-width="1.80"/>
<path d="M654.5,344 V367" stroke="#000" stroke-width="1.50"/>
<path d="M656.7,344 V369" stroke="#000" stroke-width="1.50"/>
<path d="M661.4,344 V351.9" stroke="#000" stroke-width="1.35"/>
<path d="M666,344 V362.5" stroke="#000" stroke-width="1.50"/>
<path d="M676,344 V365.8" stroke="#000" stroke-width="1.65"/>
<path d="M697.5,344 V370" stroke="#000" stroke-width="1.80"/>
<path d="M699,344 V372" stroke="#000" stroke-width="1.80"/>
<path d="M700.5,344 V368" stroke="#000" stroke-width="1.50"/>
<path d="M702,344 V375.8" stroke="#000" stroke-width="1.50"/>
<path d="M703.5,344 V370" stroke="#000" stroke-width="1.80"/>
<path d="M705,344 V372" stroke="#000" stroke-width="1.65"/>
<path d="M706.5,344 V369" stroke="#000" stroke-width="1.50"/>
<path d="M708,344 V373" stroke="#000" stroke-width="1.65"/>
<path d="M709.5,344 V366" stroke="#000" stroke-width="1.50"/>
<path d="M711,344 V370.5" stroke="#000" stroke-width="1.80"/>
<path d="M712.5,344 V367" stroke="#000" stroke-width="1.50"/>
<path d="M714,344 V371" stroke="#000" stroke-width="1.50"/>
<path d="M715.5,344 V368" stroke="#000" stroke-width="1.50"/>
<path d="M717,344 V365" stroke="#000" stroke-width="1.50"/>
<path d="M718.5,344 V369" stroke="#000" stroke-width="1.50"/>
<path d="M719.8,344 V366" stroke="#000" stroke-width="1.50"/>
<path d="M723,344 V359.8" stroke="#000" stroke-width="1.20"/>
<path d="M724.8,344 V359" stroke="#000" stroke-width="1.20"/>
<path d="M734.4,344 V355.9" stroke="#000" stroke-width="1.35"/>
<path d="M738.4,344 V359.8" stroke="#000" stroke-width="1.35"/>
<path d="M697,344 L697.5,362 L700,366 L703,361 L706,364 L709,360 L712,363 L715,359 L718,361 L720,356 L721,344 Z" fill="#000"/>
<path d="M624,344 L625,360 L628,362 L631,358 L632,344 Z" fill="#000"/>
<path d="M650,344 L650.5,360 L653,364 L656,359 L657,344 Z" fill="#000"/>
<path d="M539.9,344 V353.1" stroke="#111" stroke-width="0.91"/>
<path d="M585.3,344 V348.1" stroke="#111" stroke-width="1.13"/>
<path d="M690.7,344 V351.8" stroke="#111" stroke-width="0.70"/>
<path d="M595.1,344 V348.1" stroke="#111" stroke-width="0.90"/>
<path d="M747.7,344 V353.0" stroke="#111" stroke-width="0.95"/>
<path d="M671.9,344 V348.9" stroke="#111" stroke-width="0.79"/>
<path d="M498.3,344 V352.5" stroke="#111" stroke-width="1.04"/>
<path d="M495.3,344 V353.4" stroke="#111" stroke-width="0.95"/>
<path d="M651.7,344 V347.1" stroke="#111" stroke-width="0.68"/>
<path d="M705.5,344 V349.1" stroke="#111" stroke-width="1.18"/>
<path d="M662.7,344 V350.0" stroke="#111" stroke-width="0.76"/>
<path d="M585.1,344 V348.8" stroke="#111" stroke-width="0.83"/>
<path d="M671.8,344 V352.8" stroke="#111" stroke-width="0.78"/>
<path d="M520.0,344 V350.6" stroke="#111" stroke-width="0.96"/>
<path d="M715.6,344 V349.6" stroke="#111" stroke-width="0.95"/>
<path d="M653.8,344 V349.1" stroke="#111" stroke-width="0.58"/>
<path d="M509.9,344 V353.9" stroke="#111" stroke-width="0.95"/>
<path d="M720.4,344 V348.8" stroke="#111" stroke-width="1.00"/>
<path d="M728.6,344 V349.1" stroke="#111" stroke-width="0.60"/>
<path d="M695.1,344 V353.3" stroke="#111" stroke-width="1.06"/>
<path d="M704.8,344 V351.2" stroke="#111" stroke-width="0.96"/>
<path d="M672.7,344 V352.0" stroke="#111" stroke-width="0.96"/>
<path d="M756.3,344 V348.8" stroke="#111" stroke-width="0.79"/>
<path d="M595.5,344 V347.2" stroke="#111" stroke-width="1.00"/>
<path d="M644.0,344 V348.3" stroke="#111" stroke-width="1.01"/>
<path d="M551.7,344 V350.7" stroke="#111" stroke-width="1.05"/>
<path d="M732.3,344 V351.7" stroke="#111" stroke-width="0.86"/>
<path d="M716.2,344 V352.9" stroke="#111" stroke-width="1.11"/>
<path d="M540.8,344 V347.7" stroke="#111" stroke-width="0.59"/>
<path d="M561.3,344 V352.7" stroke="#111" stroke-width="1.03"/>
<path d="M541.3,344 V351.8" stroke="#111" stroke-width="0.73"/>
<path d="M516.6,344 V349.5" stroke="#111" stroke-width="1.02"/>
<path d="M574.1,344 V352.5" stroke="#111" stroke-width="0.73"/>
<path d="M561.8,344 V349.1" stroke="#111" stroke-width="1.10"/>
<path d="M617.2,344 V353.1" stroke="#111" stroke-width="0.91"/>
<path d="M742.3,344 V347.5" stroke="#111" stroke-width="1.12"/>
<path d="M625.1,344 V353.1" stroke="#111" stroke-width="0.77"/>
<path d="M571.8,344 V347.4" stroke="#111" stroke-width="1.10"/>
<path d="M529.3,344 V348.4" stroke="#111" stroke-width="0.79"/>
<path d="M643.3,344 V353.3" stroke="#111" stroke-width="0.82"/>
<path d="M576.5,344 V352.0" stroke="#111" stroke-width="1.05"/>
<path d="M621.7,344 V351.4" stroke="#111" stroke-width="0.62"/>
<path d="M660.5,344 V347.0" stroke="#111" stroke-width="0.69"/>
<path d="M694.0,344 V348.2" stroke="#111" stroke-width="1.04"/>
<path d="M622.2,344 V352.3" stroke="#111" stroke-width="0.56"/>
<path d="M655.2,344 V351.4" stroke="#111" stroke-width="0.78"/>
<path d="M747.8,344 V349.7" stroke="#111" stroke-width="0.53"/>
<path d="M545.6,344 V349.6" stroke="#111" stroke-width="0.51"/>
<path d="M578.1,344 V352.8" stroke="#111" stroke-width="0.63"/>
<path d="M671.7,344 V351.4" stroke="#111" stroke-width="0.67"/>
<path d="M676.1,344 V349.4" stroke="#111" stroke-width="0.59"/>
<path d="M594.3,344 V351.1" stroke="#111" stroke-width="0.62"/>
<path d="M710.5,344 V349.1" stroke="#111" stroke-width="0.70"/>
<path d="M685.1,344 V351.2" stroke="#111" stroke-width="0.74"/>
<path d="M727.4,344 V354.0" stroke="#111" stroke-width="0.74"/>
<path d="M731.0,344 V349.5" stroke="#111" stroke-width="0.63"/>
<path d="M743.3,344 V353.4" stroke="#111" stroke-width="0.78"/>
<path d="M553.3,344 V352.1" stroke="#111" stroke-width="0.59"/>
<path d="M686.8,344 V351.1" stroke="#111" stroke-width="0.62"/>
<path d="M589.8,344 V351.6" stroke="#111" stroke-width="0.53"/>
<path d="M724.4,344 V348.8" stroke="#111" stroke-width="0.87"/>
<path d="M505.8,344 V354.0" stroke="#111" stroke-width="0.96"/>
<path d="M665.5,344 V347.1" stroke="#111" stroke-width="0.98"/>
<path d="M603.0,344 V349.7" stroke="#111" stroke-width="0.88"/>
<path d="M618.2,344 V348.1" stroke="#111" stroke-width="0.99"/>
<path d="M659.4,344 V349.1" stroke="#111" stroke-width="0.96"/>
<path d="M667.9,344 V348.9" stroke="#111" stroke-width="0.92"/>
<path d="M529.2,344 V352.8" stroke="#111" stroke-width="0.57"/>
<path d="M682.8,344 V347.8" stroke="#111" stroke-width="0.58"/>
<path d="M521.1,344 V348.4" stroke="#111" stroke-width="0.64"/>
<path d="M562.4,344 V350.7" stroke="#111" stroke-width="0.64"/>
<path d="M678.7,344 V349.1" stroke="#111" stroke-width="0.53"/>
<path d="M624.0,344 V348.5" stroke="#111" stroke-width="1.15"/>
<path d="M580.3,344 V347.0" stroke="#111" stroke-width="0.97"/>
<path d="M732.4,344 V352.8" stroke="#111" stroke-width="0.97"/>
<path d="M532.4,344 V347.6" stroke="#111" stroke-width="0.86"/>
<path d="M684.0,344 V347.7" stroke="#111" stroke-width="0.68"/>
<path d="M554.0,344 V353.9" stroke="#111" stroke-width="0.71"/>
<path d="M615.6,344 V347.7" stroke="#111" stroke-width="0.62"/>
<path d="M503.4,344 V349.0" stroke="#111" stroke-width="1.06"/>
<path d="M575.6,344 V352.2" stroke="#111" stroke-width="0.57"/>
<path d="M693.2,344 V347.3" stroke="#111" stroke-width="1.10"/>
<path d="M668.1,344 V348.2" stroke="#111" stroke-width="0.75"/>
<path d="M608.6,344 V351.4" stroke="#111" stroke-width="1.11"/>
<path d="M517.5,344 V352.7" stroke="#111" stroke-width="0.63"/>
<path d="M598.8,344 V353.7" stroke="#111" stroke-width="0.69"/>
<path d="M594.8,344 V353.0" stroke="#111" stroke-width="1.06"/>
<path d="M664.3,344 V352.6" stroke="#111" stroke-width="0.58"/>
<path d="M676.8,344 V347.4" stroke="#111" stroke-width="1.16"/>
<path d="M535.1,344 V349.9" stroke="#111" stroke-width="0.91"/>
<path d="M704.8,344 V351.7" stroke="#111" stroke-width="0.63"/>
<path d="M593.3,344 V349.5" stroke="#111" stroke-width="0.52"/>
<path d="M673.7,344 V352.9" stroke="#111" stroke-width="1.18"/>
<path d="M527.5,344 V353.4" stroke="#111" stroke-width="0.58"/>
<path d="M601.6,344 V347.3" stroke="#111" stroke-width="0.68"/>
<path d="M576.0,344 V351.9" stroke="#111" stroke-width="0.97"/>
<path d="M695.6,344 V351.0" stroke="#111" stroke-width="0.90"/>
<path d="M751.2,344 V351.7" stroke="#111" stroke-width="0.74"/>
<path d="M631.1,344 V351.9" stroke="#111" stroke-width="0.57"/>
<path d="M667.7,344 V348.7" stroke="#111" stroke-width="0.74"/>
<path d="M671.5,344 V349.7" stroke="#111" stroke-width="1.09"/>
<path d="M640.4,344 V353.9" stroke="#111" stroke-width="0.54"/>
<path d="M662.9,344 V348.1" stroke="#111" stroke-width="1.09"/>
<path d="M717.9,344 V353.1" stroke="#111" stroke-width="0.55"/>
<path d="M622.8,344 V348.7" stroke="#111" stroke-width="1.18"/>
<path d="M506.3,344 V348.6" stroke="#111" stroke-width="0.95"/>
<path d="M599.5,344 V348.6" stroke="#111" stroke-width="0.82"/>
<path d="M704.5,344 V350.1" stroke="#111" stroke-width="1.10"/>
<path d="M611.0,344 V347.8" stroke="#111" stroke-width="0.85"/>
<path d="M665.5,344 V347.7" stroke="#111" stroke-width="0.79"/>
<path d="M492.9,448 L621.5,384 H633.4 L757.3,448" stroke="#666" stroke-width="1" fill="none"/>
<path d="M750,393.8 H720.1 V412" stroke="#111" stroke-width="2.2" fill="none"/>
<text x="757" y="390" font-size="13.5" fill="#111" font-weight="normal" text-anchor="end" >500 ms</text>
<text x="715" y="406.7" font-size="13.5" fill="#111" font-weight="normal" text-anchor="end" >2 pA</text>
<path d="M492.7,460.0 L492.9,463.0 L493.2,465.6 L493.4,466.2 L493.7,465.4 L493.9,462.5 L494.2,463.2 L494.4,461.8 L494.7,459.1 L494.9,461.2 L495.2,464.8 L495.4,463.0 L495.7,461.6 L495.9,459.8 L496.2,462.2 L496.4,461.0 L496.7,462.5 L496.9,463.6 L497.2,456.7 L497.4,462.2 L497.7,458.8 L497.9,460.1 L498.2,459.3 L498.4,465.2 L498.7,464.1 L498.9,463.6 L499.2,460.6 L499.4,458.8 L499.7,461.5 L499.9,462.9 L500.2,462.2 L500.4,464.1 L500.7,461.5 L500.9,466.9 L501.2,464.0 L501.4,467.4 L501.7,463.0 L501.9,461.8 L502.2,460.3 L502.4,464.4 L502.7,465.0 L502.9,462.8 L503.2,463.4 L503.4,461.7 L503.7,461.4 L503.9,461.7 L504.2,457.7 L504.4,459.9 L504.7,462.5 L504.9,462.7 L505.2,465.1 L505.4,464.0 L505.7,463.4 L505.9,462.5 L506.2,456.8 L506.4,462.5 L506.7,460.2 L506.9,463.6 L507.2,461.7 L507.4,461.6 L507.7,461.1 L507.9,461.7 L508.2,457.5 L508.4,458.4 L508.7,465.4 L508.9,463.5 L509.2,461.3 L509.4,461.5 L509.7,461.5 L509.9,468.9 L510.2,463.7 L510.4,462.4 L510.7,460.7 L510.9,456.5 L511.2,462.7 L511.4,465.8 L511.7,464.7 L511.9,463.0 L512.2,460.9 L512.5,459.4 L512.7,462.6 L513.0,461.3 L513.2,459.5 L513.5,466.5 L513.7,460.0 L514.0,461.0 L514.2,456.4 L514.5,466.6 L514.7,462.0 L515.0,462.2 L515.2,463.1 L515.5,460.3 L515.7,460.8 L516.0,463.1 L516.2,460.3 L516.5,463.2 L516.7,465.4 L517.0,464.3 L517.2,465.9 L517.5,465.0 L517.7,466.7 L518.0,463.1 L518.2,463.4 L518.5,459.7 L518.7,461.9 L519.0,460.6 L519.2,462.2 L519.5,459.8 L519.7,463.2 L520.0,468.8 L520.2,460.4 L520.5,463.8 L520.7,463.9 L521.0,460.5 L521.2,461.6 L521.5,461.1 L521.7,463.5 L522.0,460.8 L522.2,468.9 L522.5,464.5 L522.7,465.2 L523.0,467.8 L523.2,465.8 L523.5,462.1 L523.7,463.3 L524.0,462.5 L524.2,463.0 L524.5,464.8 L524.7,457.4 L525.0,458.2 L525.2,461.6 L525.5,463.5 L525.7,461.1 L526.0,461.9 L526.2,465.1 L526.5,464.0 L526.7,462.1 L527.0,461.5 L527.2,458.7 L527.5,463.6 L527.7,462.6 L528.0,460.0 L528.2,463.6 L528.5,461.4 L528.7,461.5 L529.0,458.2 L529.2,464.5 L529.5,460.4 L529.7,463.0 L530.0,462.9 L530.2,460.9 L530.5,462.1 L530.7,461.7 L531.0,461.6 L531.2,462.7 L531.5,460.7 L531.7,463.9 L532.0,462.5 L532.2,459.3 L532.5,463.3 L532.7,461.2 L533.0,463.4 L533.2,456.4 L533.5,463.1 L533.7,456.6 L534.0,461.1 L534.2,468.9 L534.5,463.8 L534.7,464.8 L535.0,460.4 L535.2,459.3 L535.5,461.9 L535.7,463.2 L536.0,461.9 L536.2,460.5 L536.5,460.0 L536.7,461.2 L537.0,466.2 L537.2,462.2 L537.5,461.3 L537.7,461.5 L538.0,459.8 L538.2,458.8 L538.5,462.6 L538.7,465.6 L539.0,463.5 L539.2,458.8 L539.5,466.1 L539.7,463.0 L540.0,467.0 L540.2,462.0 L540.5,458.9 L540.7,462.9 L541.0,461.9 L541.2,459.6 L541.5,460.4 L541.7,461.3 L542.0,460.1 L542.2,463.9 L542.5,463.1 L542.7,461.2 L543.0,461.4 L543.2,464.5 L543.5,463.3 L543.7,459.4 L544.0,463.0 L544.2,466.7 L544.5,463.1 L544.7,460.2 L545.0,466.2 L545.2,468.6 L545.5,462.7 L545.7,456.6 L546.0,458.7 L546.2,467.1 L546.5,462.0 L546.7,464.2 L547.0,463.8 L547.2,462.9 L547.5,466.7 L547.7,463.0 L548.0,464.1 L548.2,463.4 L548.5,463.2 L548.7,468.7 L549.0,459.8 L549.2,459.5 L549.5,465.4 L549.7,459.4 L550.0,463.0 L550.2,460.0 L550.5,465.0 L550.7,462.6 L551.0,464.3 L551.2,460.8 L551.5,462.2 L551.7,456.8 L552.0,464.6 L552.2,463.6 L552.5,462.6 L552.7,462.7 L553.0,461.6 L553.2,462.4 L553.5,467.3 L553.7,461.0 L554.0,461.3 L554.2,464.3 L554.5,463.1 L554.7,461.0 L555.0,466.7 L555.2,466.7 L555.5,461.7 L555.7,467.1 L556.0,459.1 L556.2,466.4 L556.5,458.5 L556.7,463.5 L557.0,462.2 L557.2,461.6 L557.5,464.1 L557.7,460.1 L558.0,460.6 L558.2,459.7 L558.5,466.3 L558.7,461.0 L559.0,463.4 L559.2,461.9 L559.5,465.1 L559.7,459.9 L560.0,460.3 L560.2,460.9 L560.5,463.0 L560.7,460.6 L561.0,463.7 L561.2,463.9 L561.5,465.2 L561.7,463.9 L562.0,466.1 L562.2,461.7 L562.5,461.3 L562.7,460.8 L563.0,460.8 L563.2,459.2 L563.5,463.5 L563.7,462.8 L564.0,457.2 L564.2,462.2 L564.5,460.7 L564.7,460.2 L565.0,461.8 L565.2,465.5 L565.5,462.8 L565.7,457.5 L566.0,463.3 L566.2,460.3 L566.5,466.6 L566.7,461.3 L567.0,462.3 L567.2,462.0 L567.5,460.4 L567.7,461.5 L568.0,462.2 L568.2,468.0 L568.5,462.8 L568.7,479.1 L569.0,479.5 L569.2,474.5 L569.5,460.9 L569.7,460.4 L570.0,464.7 L570.2,460.5 L570.5,464.9 L570.7,465.3 L571.0,461.1 L571.2,463.9 L571.5,461.3 L571.7,464.6 L572.0,463.8 L572.2,465.5 L572.5,464.6 L572.7,460.0 L573.0,466.2 L573.2,462.6 L573.5,465.2 L573.7,462.8 L574.0,464.9 L574.2,459.6 L574.5,465.9 L574.7,460.1 L575.0,462.2 L575.2,463.8 L575.5,458.8 L575.7,463.5 L576.0,462.7 L576.2,464.6 L576.5,462.4 L576.7,460.1 L577.0,459.9 L577.2,460.5 L577.5,462.9 L577.7,462.2 L578.0,464.1 L578.2,466.4 L578.5,461.9 L578.7,461.4 L579.0,463.5 L579.2,463.7 L579.5,457.2 L579.7,461.0 L580.0,462.8 L580.2,464.0 L580.5,461.4 L580.7,460.0 L581.0,467.7 L581.2,455.9 L581.5,486.2 L581.7,487.1 L582.0,485.7 L582.2,459.0 L582.5,463.2 L582.7,465.5 L583.0,461.7 L583.2,468.0 L583.5,459.2 L583.7,464.4 L584.0,463.6 L584.2,465.7 L584.5,459.6 L584.7,464.0 L585.0,482.6 L585.2,483.8 L585.5,486.9 L585.7,462.2 L586.0,467.0 L586.2,464.1 L586.5,460.9 L586.7,461.6 L587.0,463.4 L587.2,460.6 L587.5,463.8 L587.7,463.9 L588.0,464.9 L588.2,463.0 L588.5,462.9 L588.7,459.7 L589.0,463.1 L589.2,462.2 L589.5,463.0 L589.7,463.6 L590.0,460.9 L590.2,461.6 L590.5,460.9 L590.7,459.8 L591.0,458.2 L591.2,460.1 L591.5,463.8 L591.7,456.9 L592.0,463.8 L592.2,464.4 L592.5,489.5 L592.7,491.6 L593.0,464.4 L593.2,466.8 L593.5,461.7 L593.7,461.6 L594.0,465.4 L594.2,461.7 L594.5,462.3 L594.7,465.8 L595.0,464.6 L595.2,461.7 L595.5,464.1 L595.7,462.5 L596.0,465.3 L596.2,463.5 L596.5,460.6 L596.7,466.9 L597.0,462.5 L597.2,462.8 L597.5,461.1 L597.7,462.7 L598.0,461.7 L598.2,464.1 L598.5,464.0 L598.7,465.6 L599.0,464.6 L599.2,461.5 L599.5,461.0 L599.7,460.7 L600.0,465.1 L600.2,460.8 L600.5,466.4 L600.7,491.8 L601.0,494.6 L601.2,491.3 L601.5,460.1 L601.7,458.7 L602.0,461.0 L602.2,465.9 L602.5,464.2 L602.7,460.9 L603.0,456.6 L603.2,465.4 L603.5,463.6 L603.7,457.6 L604.0,462.2 L604.2,460.0 L604.5,465.2 L604.7,464.2 L605.0,461.0 L605.2,457.1 L605.5,461.9 L605.7,468.9 L606.0,463.8 L606.2,461.3 L606.5,465.0 L606.7,461.4 L607.0,466.7 L607.2,458.3 L607.5,461.6 L607.7,466.5 L608.0,465.5 L608.2,464.0 L608.5,459.0 L608.7,462.7 L609.0,464.3 L609.2,461.5 L609.5,462.7 L609.7,493.2 L610.0,493.3 L610.2,491.4 L610.5,460.8 L610.7,460.3 L611.0,465.1 L611.2,462.7 L611.5,457.8 L611.7,466.2 L612.0,468.6 L612.2,461.4 L612.5,463.9 L612.7,462.2 L613.0,464.4 L613.2,462.8 L613.5,463.7 L613.7,462.5 L614.0,460.9 L614.2,461.6 L614.5,460.5 L614.7,460.8 L615.0,461.4 L615.2,468.9 L615.5,464.4 L615.7,467.2 L616.0,458.8 L616.2,461.8 L616.5,465.0 L616.7,465.6 L617.0,463.7 L617.2,461.3 L617.5,458.8 L617.7,463.0 L618.0,458.3 L618.2,463.1 L618.5,488.0 L618.7,486.7 L619.0,489.5 L619.2,487.7 L619.5,489.8 L619.7,486.6 L620.0,489.8 L620.2,488.0 L620.5,490.7 L620.7,487.2 L621.0,488.3 L621.2,489.1 L621.5,488.4 L621.7,488.5 L622.0,488.1 L622.2,489.1 L622.5,488.9 L622.7,488.7 L623.0,459.4 L623.2,465.5 L623.5,466.1 L623.7,468.4 L624.0,461.7 L624.2,460.3 L624.5,457.3 L624.7,463.1 L625.0,460.6 L625.2,465.8 L625.5,467.8 L625.7,459.0 L626.0,462.2 L626.2,466.8 L626.5,458.9 L626.7,459.5 L627.0,464.7 L627.2,463.5 L627.5,458.0 L627.7,463.8 L628.0,461.7 L628.2,462.6 L628.5,463.6 L628.7,467.0 L629.0,464.8 L629.2,460.2 L629.5,466.2 L629.7,464.5 L630.0,463.8 L630.2,460.9 L630.5,460.3 L630.7,462.6 L631.0,466.2 L631.2,479.2 L631.5,479.5 L631.7,461.8 L632.0,462.7 L632.2,457.8 L632.5,462.4 L632.7,464.8 L633.0,463.1 L633.2,466.3 L633.5,466.5 L633.7,461.7 L634.0,459.3 L634.2,462.5 L634.5,459.1 L634.7,464.6 L635.0,462.2 L635.2,464.3 L635.5,461.8 L635.7,460.6 L636.0,466.4 L636.2,462.1 L636.5,462.6 L636.7,462.9 L637.0,461.3 L637.2,461.6 L637.5,459.0 L637.7,475.7 L638.0,472.6 L638.2,476.1 L638.5,464.1 L638.7,463.2 L639.0,460.2 L639.2,463.3 L639.5,462.0 L639.7,464.4 L640.0,463.6 L640.2,460.1 L640.5,462.9 L640.7,462.9 L641.0,465.1 L641.2,467.0 L641.5,458.8 L641.7,461.0 L642.0,461.0 L642.2,461.1 L642.5,461.7 L642.7,489.5 L643.0,489.4 L643.2,487.8 L643.5,489.4 L643.7,487.1 L644.0,489.0 L644.2,488.1 L644.5,486.3 L644.7,487.6 L645.0,489.1 L645.2,487.8 L645.5,488.7 L645.7,490.8 L646.0,487.6 L646.2,488.4 L646.5,485.5 L646.7,486.7 L647.0,485.5 L647.2,489.4 L647.5,488.7 L647.7,489.1 L648.0,488.6 L648.2,488.6 L648.5,464.7 L648.7,459.2 L649.0,466.2 L649.2,463.7 L649.5,464.1 L649.7,466.6 L650.0,460.5 L650.2,459.9 L650.5,455.9 L650.7,465.1 L651.0,463.7 L651.2,467.6 L651.5,462.7 L651.7,463.5 L652.0,462.5 L652.2,463.1 L652.5,463.2 L652.7,461.0 L653.0,460.6 L653.2,461.5 L653.5,459.6 L653.7,465.8 L654.0,460.5 L654.2,461.8 L654.5,462.4 L654.7,461.0 L655.0,466.1 L655.2,463.4 L655.5,465.0 L655.7,459.0 L656.0,460.5 L656.2,456.9 L656.5,465.3 L656.7,461.0 L657.0,463.9 L657.2,465.4 L657.5,458.9 L657.7,464.1 L658.0,461.8 L658.2,463.2 L658.5,462.9 L658.7,463.7 L659.0,462.0 L659.2,458.6 L659.5,460.3 L659.7,462.0 L660.0,462.0 L660.2,459.7 L660.5,460.7 L660.7,462.5 L661.0,465.1 L661.2,462.3 L661.5,460.7 L661.7,462.7 L662.0,459.7 L662.2,463.3 L662.5,458.7 L662.7,464.3 L663.0,460.6 L663.2,465.4 L663.5,461.8 L663.7,461.2 L664.0,462.8 L664.2,461.5 L664.5,462.2 L664.7,467.1 L665.0,463.9 L665.2,463.8 L665.5,457.2 L665.7,465.5 L666.0,464.1 L666.2,462.1 L666.5,459.4 L666.7,458.8 L667.0,460.2 L667.2,462.2 L667.5,462.9 L667.7,463.2 L668.0,463.2 L668.2,462.6 L668.5,461.9 L668.7,459.1 L669.0,467.8 L669.2,464.8 L669.5,465.0 L669.7,462.2 L670.0,459.1 L670.2,466.3 L670.5,460.3 L670.7,478.0 L671.0,476.5 L671.2,478.1 L671.5,463.0 L671.7,462.6 L672.0,464.4 L672.2,464.5 L672.5,461.1 L672.7,462.7 L673.0,463.5 L673.2,464.8 L673.5,486.9 L673.7,486.0 L674.0,489.1 L674.2,462.7 L674.5,463.3 L674.7,463.7 L675.0,462.4 L675.2,459.8 L675.5,460.4 L675.7,464.9 L676.0,462.0 L676.2,458.9 L676.5,466.2 L676.7,461.2 L677.0,459.0 L677.2,467.6 L677.5,464.0 L677.7,462.6 L678.0,464.2 L678.2,464.1 L678.5,460.9 L678.7,464.4 L679.0,460.8 L679.2,460.7 L679.5,458.7 L679.7,462.8 L680.0,468.0 L680.2,459.6 L680.5,460.7 L680.7,464.2 L681.0,467.2 L681.2,462.1 L681.5,463.3 L681.7,461.5 L682.0,461.8 L682.2,464.9 L682.5,461.4 L682.7,465.0 L683.0,464.7 L683.2,461.5 L683.5,460.2 L683.7,462.3 L684.0,459.7 L684.2,460.7 L684.5,462.8 L684.7,463.2 L685.0,462.5 L685.2,457.7 L685.5,461.5 L685.7,463.8 L686.0,465.2 L686.2,464.5 L686.5,457.2 L686.7,459.6 L687.0,487.7 L687.2,487.7 L687.5,489.1 L687.7,490.0 L688.0,489.7 L688.2,489.1 L688.5,487.3 L688.7,488.3 L689.0,489.2 L689.2,489.8 L689.5,487.0 L689.7,487.4 L690.0,490.9 L690.2,492.4 L690.5,489.5 L690.7,487.7 L691.0,489.5 L691.2,490.4 L691.5,489.5 L691.7,463.7 L692.0,459.9 L692.2,461.0 L692.5,460.5 L692.7,463.1 L693.0,461.4 L693.2,463.7 L693.5,461.0 L693.7,459.2 L694.0,462.1 L694.2,460.9 L694.5,459.6 L694.7,462.2 L695.0,461.6 L695.2,459.5 L695.5,461.8 L695.7,461.5 L696.0,461.6 L696.2,462.1 L696.5,461.4 L696.7,463.2 L697.0,462.6 L697.2,463.9 L697.5,462.2 L697.7,462.1 L698.0,461.6 L698.2,461.0 L698.5,461.3 L698.7,459.1 L699.0,460.0 L699.2,461.0 L699.5,459.6 L699.7,462.4 L700.0,462.2 L700.2,464.1 L700.5,463.0 L700.7,458.3 L701.0,463.7 L701.2,464.1 L701.5,462.7 L701.7,460.2 L702.0,462.1 L702.2,464.2 L702.5,463.4 L702.7,462.8 L703.0,462.5 L703.2,463.6 L703.5,460.6 L703.7,462.0 L704.0,460.6 L704.2,462.1 L704.5,457.2 L704.7,465.8 L705.0,462.8 L705.2,466.0 L705.5,460.1 L705.7,465.3 L706.0,465.2 L706.2,462.4 L706.5,460.9 L706.7,460.5 L707.0,459.5 L707.2,463.8 L707.5,466.8 L707.7,463.0 L708.0,461.6 L708.2,459.1 L708.5,463.0 L708.7,465.4 L709.0,462.6 L709.2,464.5 L709.5,461.5 L709.7,456.5 L710.0,462.6 L710.2,466.7 L710.5,458.0 L710.7,468.9 L711.0,468.0 L711.2,461.2 L711.5,464.5 L711.7,464.2 L712.0,466.6 L712.2,460.1 L712.5,460.9 L712.7,459.4 L713.0,462.5 L713.2,461.2 L713.5,461.7 L713.7,462.0 L714.0,460.5 L714.2,468.6 L714.5,463.2 L714.7,466.1 L715.0,465.0 L715.2,462.7 L715.5,459.8 L715.7,461.0 L716.0,461.2 L716.2,463.5 L716.5,467.5 L716.7,462.4 L717.0,458.1 L717.2,461.8 L717.5,462.6 L717.7,463.3 L718.0,456.1 L718.2,461.0 L718.5,465.6 L718.7,466.2 L719.0,467.5 L719.2,462.2 L719.5,461.5 L719.7,461.3 L720.0,458.8 L720.2,459.3 L720.5,463.7 L720.7,465.8 L721.0,460.8 L721.2,455.9 L721.5,463.5 L721.7,459.6 L722.0,459.1 L722.2,458.5 L722.5,461.0 L722.7,462.8 L723.0,459.5 L723.2,460.8 L723.5,462.8 L723.7,460.1 L724.0,459.1 L724.2,461.6 L724.5,462.9 L724.7,461.4 L725.0,458.9 L725.2,461.5 L725.5,461.2 L725.7,465.4 L726.0,459.7 L726.2,462.8 L726.5,461.1 L726.7,462.0 L727.0,465.5 L727.2,468.9 L727.5,462.6 L727.7,463.1 L728.0,463.7 L728.2,462.9 L728.5,460.6 L728.7,459.2 L729.0,460.8 L729.2,462.6 L729.5,463.2 L729.7,460.9 L730.0,457.5 L730.2,462.8 L730.5,461.3 L730.7,461.0 L731.0,464.8 L731.2,467.5 L731.5,463.5 L731.7,465.5 L732.0,456.6 L732.2,466.5 L732.5,460.0 L732.7,461.3 L733.0,465.9 L733.2,462.6 L733.5,462.2 L733.7,468.9 L734.0,465.7 L734.2,467.0 L734.5,465.4 L734.7,461.0 L735.0,463.7 L735.2,458.7 L735.5,466.0 L735.7,461.6 L736.0,461.4 L736.2,463.4 L736.5,460.3 L736.7,463.7 L737.0,459.8 L737.2,464.4 L737.5,460.0 L737.7,457.8 L738.0,468.5 L738.2,465.5 L738.5,462.0 L738.7,459.0 L739.0,461.9 L739.2,461.5 L739.5,460.6 L739.7,464.8 L740.0,461.3 L740.2,465.7 L740.5,462.3 L740.7,467.3 L741.0,459.6 L741.2,462.3 L741.5,463.1 L741.7,459.5 L742.0,460.8 L742.2,461.2 L742.5,464.4 L742.7,462.2 L743.0,463.5 L743.2,459.5 L743.5,463.2 L743.7,457.9 L744.0,464.2 L744.2,458.5 L744.5,464.0 L744.7,462.5 L745.0,459.4 L745.2,460.6 L745.5,462.8 L745.7,460.4 L746.0,457.8 L746.2,466.8 L746.5,461.6 L746.7,465.6 L747.0,461.8 L747.2,455.9 L747.5,464.5 L747.7,461.9 L748.0,461.6 L748.2,464.4 L748.5,459.7 L748.7,464.0 L749.0,460.4 L749.2,460.1 L749.5,459.9 L749.7,458.5 L750.0,459.0 L750.2,459.5 L750.5,464.7 L750.7,463.4 L751.0,462.0 L751.2,464.8 L751.5,459.4 L751.7,461.7 L752.0,462.7 L752.2,460.9 L752.5,462.5 L752.7,463.4 L753.0,465.2 L753.2,458.3 L753.5,458.3 L753.7,459.5 L754.0,459.3 L754.2,461.9 L754.5,462.2 L754.7,461.8 L755.0,463.5 L755.2,460.7 L755.5,461.1 L755.7,460.7 L756.0,460.9 L756.2,464.1 L756.5,462.9 L756.7,464.9 L757.0,461.3 L757.2,460.8" stroke="#000" stroke-width="0.9" fill="none" stroke-linejoin="round" stroke-linecap="round" />
<path d="M745,501.3 H732.7 V519.6" stroke="#111" stroke-width="2.2" fill="none"/>
<text x="757.3" y="496.7" font-size="13.5" fill="#111" font-weight="normal" text-anchor="end" >10 ms</text>
<text x="727.8" y="513.4" font-size="13.5" fill="#111" font-weight="normal" text-anchor="end" >2 pA</text>
</svg></body></html>
